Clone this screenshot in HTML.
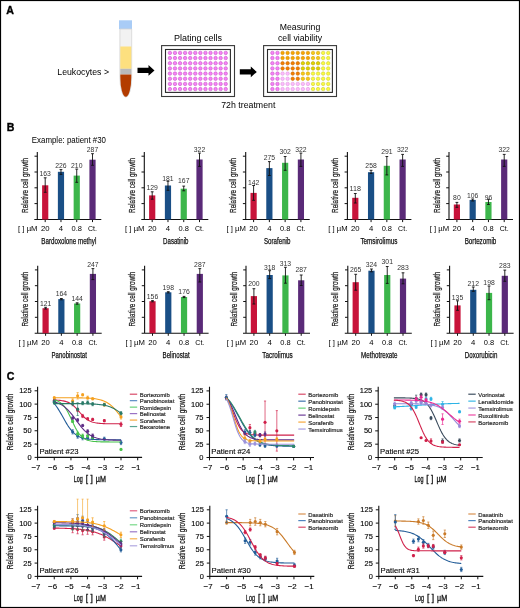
<!DOCTYPE html>
<html><head><meta charset="utf-8"><style>
html,body{margin:0;padding:0;background:#fff;}
body{width:520px;height:608px;overflow:hidden;}
svg{display:block;font-family:"Liberation Sans", sans-serif;will-change:transform;filter:blur(0.3px);}
</style></head><body>
<svg width="520" height="608" viewBox="0 0 520 608">
<rect x="0" y="0" width="520" height="608" fill="#fff"/>
<text x="6.20" y="13.70" font-size="10.6" fill="#000" font-weight="bold" stroke="#000" stroke-width="0.35">A</text>
<rect x="119" y="20.3" width="13" height="8.8" fill="#a9ccf6"/>
<path d="M119.9 29 H131.7 V77 A5.9 20.2 0 0 1 119.9 77 Z" fill="#f2f2f2" stroke="#d4d4d4" stroke-width="0.8"/>
<rect x="120.3" y="46.5" width="11" height="22.3" fill="#fde07f"/>
<rect x="120.3" y="68.8" width="11" height="5.6" fill="#b9b9bb"/>
<path d="M120.3 74.4 H131.3 V77 A5.5 19.8 0 0 1 120.3 77 Z" fill="#b33c00"/>
<text x="57.30" y="74.60" font-size="8.7" textLength="51.70" lengthAdjust="spacingAndGlyphs" >Leukocytes &gt;</text>
<path d="M137.5 67.7 H148.5 V65.0 L154.5 70.4 L148.5 75.80000000000001 V73.10000000000001 H137.5 Z" fill="#000"/>
<path d="M239.8 69.2 H250.8 V66.5 L256.8 71.9 L250.8 77.30000000000001 V74.60000000000001 H239.8 Z" fill="#000"/>
<text x="174.00" y="40.90" font-size="8.9" textLength="47.90" lengthAdjust="spacingAndGlyphs" >Plating cells</text>
<text x="279.80" y="29.50" font-size="8.7" textLength="40.40" lengthAdjust="spacingAndGlyphs" >Measuring</text>
<text x="278.00" y="40.50" font-size="8.7" textLength="44.00" lengthAdjust="spacingAndGlyphs" >cell viability</text>
<text x="221.20" y="108.00" font-size="8.8" textLength="54.20" lengthAdjust="spacingAndGlyphs" >72h treatment</text>
<rect x="161.6" y="45.6" width="72.90" height="50.90" fill="#fff" stroke="#3a3a3a" stroke-width="1.1"/>
<rect x="165.5" y="49.5" width="64.90" height="42.90" fill="#fff" stroke="#2a2a2a" stroke-width="1.1"/>
<circle cx="169.90" cy="52.90" r="1.75" fill="#f682f6" stroke="#c452c4" stroke-width="0.55"/>
<circle cx="174.97" cy="52.90" r="1.75" fill="#f682f6" stroke="#c452c4" stroke-width="0.55"/>
<circle cx="180.05" cy="52.90" r="1.75" fill="#f682f6" stroke="#c452c4" stroke-width="0.55"/>
<circle cx="185.12" cy="52.90" r="1.75" fill="#f682f6" stroke="#c452c4" stroke-width="0.55"/>
<circle cx="190.20" cy="52.90" r="1.75" fill="#f682f6" stroke="#c452c4" stroke-width="0.55"/>
<circle cx="195.28" cy="52.90" r="1.75" fill="#f682f6" stroke="#c452c4" stroke-width="0.55"/>
<circle cx="200.35" cy="52.90" r="1.75" fill="#f682f6" stroke="#c452c4" stroke-width="0.55"/>
<circle cx="205.43" cy="52.90" r="1.75" fill="#f682f6" stroke="#c452c4" stroke-width="0.55"/>
<circle cx="210.50" cy="52.90" r="1.75" fill="#f682f6" stroke="#c452c4" stroke-width="0.55"/>
<circle cx="215.58" cy="52.90" r="1.75" fill="#f682f6" stroke="#c452c4" stroke-width="0.55"/>
<circle cx="220.65" cy="52.90" r="1.75" fill="#f682f6" stroke="#c452c4" stroke-width="0.55"/>
<circle cx="225.73" cy="52.90" r="1.75" fill="#f682f6" stroke="#c452c4" stroke-width="0.55"/>
<circle cx="169.90" cy="58.07" r="1.75" fill="#f682f6" stroke="#c452c4" stroke-width="0.55"/>
<circle cx="174.97" cy="58.07" r="1.75" fill="#f682f6" stroke="#c452c4" stroke-width="0.55"/>
<circle cx="180.05" cy="58.07" r="1.75" fill="#f682f6" stroke="#c452c4" stroke-width="0.55"/>
<circle cx="185.12" cy="58.07" r="1.75" fill="#f682f6" stroke="#c452c4" stroke-width="0.55"/>
<circle cx="190.20" cy="58.07" r="1.75" fill="#f682f6" stroke="#c452c4" stroke-width="0.55"/>
<circle cx="195.28" cy="58.07" r="1.75" fill="#f682f6" stroke="#c452c4" stroke-width="0.55"/>
<circle cx="200.35" cy="58.07" r="1.75" fill="#f682f6" stroke="#c452c4" stroke-width="0.55"/>
<circle cx="205.43" cy="58.07" r="1.75" fill="#f682f6" stroke="#c452c4" stroke-width="0.55"/>
<circle cx="210.50" cy="58.07" r="1.75" fill="#f682f6" stroke="#c452c4" stroke-width="0.55"/>
<circle cx="215.58" cy="58.07" r="1.75" fill="#f682f6" stroke="#c452c4" stroke-width="0.55"/>
<circle cx="220.65" cy="58.07" r="1.75" fill="#f682f6" stroke="#c452c4" stroke-width="0.55"/>
<circle cx="225.73" cy="58.07" r="1.75" fill="#f682f6" stroke="#c452c4" stroke-width="0.55"/>
<circle cx="169.90" cy="63.24" r="1.75" fill="#f682f6" stroke="#c452c4" stroke-width="0.55"/>
<circle cx="174.97" cy="63.24" r="1.75" fill="#f682f6" stroke="#c452c4" stroke-width="0.55"/>
<circle cx="180.05" cy="63.24" r="1.75" fill="#f682f6" stroke="#c452c4" stroke-width="0.55"/>
<circle cx="185.12" cy="63.24" r="1.75" fill="#f682f6" stroke="#c452c4" stroke-width="0.55"/>
<circle cx="190.20" cy="63.24" r="1.75" fill="#f682f6" stroke="#c452c4" stroke-width="0.55"/>
<circle cx="195.28" cy="63.24" r="1.75" fill="#f682f6" stroke="#c452c4" stroke-width="0.55"/>
<circle cx="200.35" cy="63.24" r="1.75" fill="#f682f6" stroke="#c452c4" stroke-width="0.55"/>
<circle cx="205.43" cy="63.24" r="1.75" fill="#f682f6" stroke="#c452c4" stroke-width="0.55"/>
<circle cx="210.50" cy="63.24" r="1.75" fill="#f682f6" stroke="#c452c4" stroke-width="0.55"/>
<circle cx="215.58" cy="63.24" r="1.75" fill="#f682f6" stroke="#c452c4" stroke-width="0.55"/>
<circle cx="220.65" cy="63.24" r="1.75" fill="#f682f6" stroke="#c452c4" stroke-width="0.55"/>
<circle cx="225.73" cy="63.24" r="1.75" fill="#f682f6" stroke="#c452c4" stroke-width="0.55"/>
<circle cx="169.90" cy="68.41" r="1.75" fill="#f682f6" stroke="#c452c4" stroke-width="0.55"/>
<circle cx="174.97" cy="68.41" r="1.75" fill="#f682f6" stroke="#c452c4" stroke-width="0.55"/>
<circle cx="180.05" cy="68.41" r="1.75" fill="#f682f6" stroke="#c452c4" stroke-width="0.55"/>
<circle cx="185.12" cy="68.41" r="1.75" fill="#f682f6" stroke="#c452c4" stroke-width="0.55"/>
<circle cx="190.20" cy="68.41" r="1.75" fill="#f682f6" stroke="#c452c4" stroke-width="0.55"/>
<circle cx="195.28" cy="68.41" r="1.75" fill="#f682f6" stroke="#c452c4" stroke-width="0.55"/>
<circle cx="200.35" cy="68.41" r="1.75" fill="#f682f6" stroke="#c452c4" stroke-width="0.55"/>
<circle cx="205.43" cy="68.41" r="1.75" fill="#f682f6" stroke="#c452c4" stroke-width="0.55"/>
<circle cx="210.50" cy="68.41" r="1.75" fill="#f682f6" stroke="#c452c4" stroke-width="0.55"/>
<circle cx="215.58" cy="68.41" r="1.75" fill="#f682f6" stroke="#c452c4" stroke-width="0.55"/>
<circle cx="220.65" cy="68.41" r="1.75" fill="#f682f6" stroke="#c452c4" stroke-width="0.55"/>
<circle cx="225.73" cy="68.41" r="1.75" fill="#f682f6" stroke="#c452c4" stroke-width="0.55"/>
<circle cx="169.90" cy="73.58" r="1.75" fill="#f682f6" stroke="#c452c4" stroke-width="0.55"/>
<circle cx="174.97" cy="73.58" r="1.75" fill="#f682f6" stroke="#c452c4" stroke-width="0.55"/>
<circle cx="180.05" cy="73.58" r="1.75" fill="#f682f6" stroke="#c452c4" stroke-width="0.55"/>
<circle cx="185.12" cy="73.58" r="1.75" fill="#f682f6" stroke="#c452c4" stroke-width="0.55"/>
<circle cx="190.20" cy="73.58" r="1.75" fill="#f682f6" stroke="#c452c4" stroke-width="0.55"/>
<circle cx="195.28" cy="73.58" r="1.75" fill="#f682f6" stroke="#c452c4" stroke-width="0.55"/>
<circle cx="200.35" cy="73.58" r="1.75" fill="#f682f6" stroke="#c452c4" stroke-width="0.55"/>
<circle cx="205.43" cy="73.58" r="1.75" fill="#f682f6" stroke="#c452c4" stroke-width="0.55"/>
<circle cx="210.50" cy="73.58" r="1.75" fill="#f682f6" stroke="#c452c4" stroke-width="0.55"/>
<circle cx="215.58" cy="73.58" r="1.75" fill="#f682f6" stroke="#c452c4" stroke-width="0.55"/>
<circle cx="220.65" cy="73.58" r="1.75" fill="#f682f6" stroke="#c452c4" stroke-width="0.55"/>
<circle cx="225.73" cy="73.58" r="1.75" fill="#f682f6" stroke="#c452c4" stroke-width="0.55"/>
<circle cx="169.90" cy="78.75" r="1.75" fill="#f682f6" stroke="#c452c4" stroke-width="0.55"/>
<circle cx="174.97" cy="78.75" r="1.75" fill="#f682f6" stroke="#c452c4" stroke-width="0.55"/>
<circle cx="180.05" cy="78.75" r="1.75" fill="#f682f6" stroke="#c452c4" stroke-width="0.55"/>
<circle cx="185.12" cy="78.75" r="1.75" fill="#f682f6" stroke="#c452c4" stroke-width="0.55"/>
<circle cx="190.20" cy="78.75" r="1.75" fill="#f682f6" stroke="#c452c4" stroke-width="0.55"/>
<circle cx="195.28" cy="78.75" r="1.75" fill="#f682f6" stroke="#c452c4" stroke-width="0.55"/>
<circle cx="200.35" cy="78.75" r="1.75" fill="#f682f6" stroke="#c452c4" stroke-width="0.55"/>
<circle cx="205.43" cy="78.75" r="1.75" fill="#f682f6" stroke="#c452c4" stroke-width="0.55"/>
<circle cx="210.50" cy="78.75" r="1.75" fill="#f682f6" stroke="#c452c4" stroke-width="0.55"/>
<circle cx="215.58" cy="78.75" r="1.75" fill="#f682f6" stroke="#c452c4" stroke-width="0.55"/>
<circle cx="220.65" cy="78.75" r="1.75" fill="#f682f6" stroke="#c452c4" stroke-width="0.55"/>
<circle cx="225.73" cy="78.75" r="1.75" fill="#f682f6" stroke="#c452c4" stroke-width="0.55"/>
<circle cx="169.90" cy="83.92" r="1.75" fill="#f682f6" stroke="#c452c4" stroke-width="0.55"/>
<circle cx="174.97" cy="83.92" r="1.75" fill="#f682f6" stroke="#c452c4" stroke-width="0.55"/>
<circle cx="180.05" cy="83.92" r="1.75" fill="#f682f6" stroke="#c452c4" stroke-width="0.55"/>
<circle cx="185.12" cy="83.92" r="1.75" fill="#f682f6" stroke="#c452c4" stroke-width="0.55"/>
<circle cx="190.20" cy="83.92" r="1.75" fill="#f682f6" stroke="#c452c4" stroke-width="0.55"/>
<circle cx="195.28" cy="83.92" r="1.75" fill="#f682f6" stroke="#c452c4" stroke-width="0.55"/>
<circle cx="200.35" cy="83.92" r="1.75" fill="#f682f6" stroke="#c452c4" stroke-width="0.55"/>
<circle cx="205.43" cy="83.92" r="1.75" fill="#f682f6" stroke="#c452c4" stroke-width="0.55"/>
<circle cx="210.50" cy="83.92" r="1.75" fill="#f682f6" stroke="#c452c4" stroke-width="0.55"/>
<circle cx="215.58" cy="83.92" r="1.75" fill="#f682f6" stroke="#c452c4" stroke-width="0.55"/>
<circle cx="220.65" cy="83.92" r="1.75" fill="#f682f6" stroke="#c452c4" stroke-width="0.55"/>
<circle cx="225.73" cy="83.92" r="1.75" fill="#f682f6" stroke="#c452c4" stroke-width="0.55"/>
<circle cx="169.90" cy="89.09" r="1.75" fill="#f682f6" stroke="#c452c4" stroke-width="0.55"/>
<circle cx="174.97" cy="89.09" r="1.75" fill="#f682f6" stroke="#c452c4" stroke-width="0.55"/>
<circle cx="180.05" cy="89.09" r="1.75" fill="#f682f6" stroke="#c452c4" stroke-width="0.55"/>
<circle cx="185.12" cy="89.09" r="1.75" fill="#f682f6" stroke="#c452c4" stroke-width="0.55"/>
<circle cx="190.20" cy="89.09" r="1.75" fill="#f682f6" stroke="#c452c4" stroke-width="0.55"/>
<circle cx="195.28" cy="89.09" r="1.75" fill="#f682f6" stroke="#c452c4" stroke-width="0.55"/>
<circle cx="200.35" cy="89.09" r="1.75" fill="#f682f6" stroke="#c452c4" stroke-width="0.55"/>
<circle cx="205.43" cy="89.09" r="1.75" fill="#f682f6" stroke="#c452c4" stroke-width="0.55"/>
<circle cx="210.50" cy="89.09" r="1.75" fill="#f682f6" stroke="#c452c4" stroke-width="0.55"/>
<circle cx="215.58" cy="89.09" r="1.75" fill="#f682f6" stroke="#c452c4" stroke-width="0.55"/>
<circle cx="220.65" cy="89.09" r="1.75" fill="#f682f6" stroke="#c452c4" stroke-width="0.55"/>
<circle cx="225.73" cy="89.09" r="1.75" fill="#f682f6" stroke="#c452c4" stroke-width="0.55"/>
<rect x="263.6" y="45.6" width="72.90" height="50.90" fill="#fff" stroke="#3a3a3a" stroke-width="1.1"/>
<rect x="267.5" y="49.5" width="64.90" height="42.90" fill="#fff" stroke="#2a2a2a" stroke-width="1.1"/>
<circle cx="272.40" cy="52.90" r="1.75" fill="#f682f6" stroke="#c452c4" stroke-width="0.55"/>
<circle cx="277.47" cy="52.90" r="1.75" fill="#f682f6" stroke="#c452c4" stroke-width="0.55"/>
<circle cx="282.55" cy="52.90" r="1.75" fill="#f8a500" stroke="#cf8a00" stroke-width="0.55"/>
<circle cx="287.62" cy="52.90" r="1.75" fill="#f8a500" stroke="#cf8a00" stroke-width="0.55"/>
<circle cx="292.70" cy="52.90" r="1.75" fill="#f8a500" stroke="#cf8a00" stroke-width="0.55"/>
<circle cx="297.77" cy="52.90" r="1.75" fill="#f8a500" stroke="#cf8a00" stroke-width="0.55"/>
<circle cx="302.85" cy="52.90" r="1.75" fill="#f8a500" stroke="#cf8a00" stroke-width="0.55"/>
<circle cx="307.92" cy="52.90" r="1.75" fill="#f8a500" stroke="#cf8a00" stroke-width="0.55"/>
<circle cx="313.00" cy="52.90" r="1.75" fill="#f6c818" stroke="#cfa400" stroke-width="0.55"/>
<circle cx="318.07" cy="52.90" r="1.75" fill="#f6c818" stroke="#cfa400" stroke-width="0.55"/>
<circle cx="323.15" cy="52.90" r="1.75" fill="#fafa40" stroke="#cccc30" stroke-width="0.55"/>
<circle cx="328.22" cy="52.90" r="1.75" fill="#fafa40" stroke="#cccc30" stroke-width="0.55"/>
<circle cx="272.40" cy="58.07" r="1.75" fill="#f682f6" stroke="#c452c4" stroke-width="0.55"/>
<circle cx="277.47" cy="58.07" r="1.75" fill="#f682f6" stroke="#c452c4" stroke-width="0.55"/>
<circle cx="282.55" cy="58.07" r="1.75" fill="#f8a500" stroke="#cf8a00" stroke-width="0.55"/>
<circle cx="287.62" cy="58.07" r="1.75" fill="#f8a500" stroke="#cf8a00" stroke-width="0.55"/>
<circle cx="292.70" cy="58.07" r="1.75" fill="#f8a500" stroke="#cf8a00" stroke-width="0.55"/>
<circle cx="297.77" cy="58.07" r="1.75" fill="#f8a500" stroke="#cf8a00" stroke-width="0.55"/>
<circle cx="302.85" cy="58.07" r="1.75" fill="#f8a500" stroke="#cf8a00" stroke-width="0.55"/>
<circle cx="307.92" cy="58.07" r="1.75" fill="#f8a500" stroke="#cf8a00" stroke-width="0.55"/>
<circle cx="313.00" cy="58.07" r="1.75" fill="#f6c818" stroke="#cfa400" stroke-width="0.55"/>
<circle cx="318.07" cy="58.07" r="1.75" fill="#f6c818" stroke="#cfa400" stroke-width="0.55"/>
<circle cx="323.15" cy="58.07" r="1.75" fill="#fafa40" stroke="#cccc30" stroke-width="0.55"/>
<circle cx="328.22" cy="58.07" r="1.75" fill="#fafa40" stroke="#cccc30" stroke-width="0.55"/>
<circle cx="272.40" cy="63.24" r="1.75" fill="#f682f6" stroke="#c452c4" stroke-width="0.55"/>
<circle cx="277.47" cy="63.24" r="1.75" fill="#f682f6" stroke="#c452c4" stroke-width="0.55"/>
<circle cx="282.55" cy="63.24" r="1.75" fill="#f27e00" stroke="#c86400" stroke-width="0.55"/>
<circle cx="287.62" cy="63.24" r="1.75" fill="#f27e00" stroke="#c86400" stroke-width="0.55"/>
<circle cx="292.70" cy="63.24" r="1.75" fill="#f27e00" stroke="#c86400" stroke-width="0.55"/>
<circle cx="297.77" cy="63.24" r="1.75" fill="#f27e00" stroke="#c86400" stroke-width="0.55"/>
<circle cx="302.85" cy="63.24" r="1.75" fill="#e2d200" stroke="#b4a400" stroke-width="0.55"/>
<circle cx="307.92" cy="63.24" r="1.75" fill="#e2d200" stroke="#b4a400" stroke-width="0.55"/>
<circle cx="313.00" cy="63.24" r="1.75" fill="#e2d200" stroke="#b4a400" stroke-width="0.55"/>
<circle cx="318.07" cy="63.24" r="1.75" fill="#e2d200" stroke="#b4a400" stroke-width="0.55"/>
<circle cx="323.15" cy="63.24" r="1.75" fill="#fafa40" stroke="#cccc30" stroke-width="0.55"/>
<circle cx="328.22" cy="63.24" r="1.75" fill="#fafa40" stroke="#cccc30" stroke-width="0.55"/>
<circle cx="272.40" cy="68.41" r="1.75" fill="#f682f6" stroke="#c452c4" stroke-width="0.55"/>
<circle cx="277.47" cy="68.41" r="1.75" fill="#f682f6" stroke="#c452c4" stroke-width="0.55"/>
<circle cx="282.55" cy="68.41" r="1.75" fill="#f27e00" stroke="#c86400" stroke-width="0.55"/>
<circle cx="287.62" cy="68.41" r="1.75" fill="#f27e00" stroke="#c86400" stroke-width="0.55"/>
<circle cx="292.70" cy="68.41" r="1.75" fill="#f27e00" stroke="#c86400" stroke-width="0.55"/>
<circle cx="297.77" cy="68.41" r="1.75" fill="#f27e00" stroke="#c86400" stroke-width="0.55"/>
<circle cx="302.85" cy="68.41" r="1.75" fill="#e2d200" stroke="#b4a400" stroke-width="0.55"/>
<circle cx="307.92" cy="68.41" r="1.75" fill="#e2d200" stroke="#b4a400" stroke-width="0.55"/>
<circle cx="313.00" cy="68.41" r="1.75" fill="#e2d200" stroke="#b4a400" stroke-width="0.55"/>
<circle cx="318.07" cy="68.41" r="1.75" fill="#e2d200" stroke="#b4a400" stroke-width="0.55"/>
<circle cx="323.15" cy="68.41" r="1.75" fill="#fafa40" stroke="#cccc30" stroke-width="0.55"/>
<circle cx="328.22" cy="68.41" r="1.75" fill="#fafa40" stroke="#cccc30" stroke-width="0.55"/>
<circle cx="272.40" cy="73.58" r="1.75" fill="#f682f6" stroke="#c452c4" stroke-width="0.55"/>
<circle cx="277.47" cy="73.58" r="1.75" fill="#f682f6" stroke="#c452c4" stroke-width="0.55"/>
<circle cx="282.55" cy="73.58" r="1.75" fill="#fcbcfc" stroke="#dc94dc" stroke-width="0.55"/>
<circle cx="287.62" cy="73.58" r="1.75" fill="#fcbcfc" stroke="#dc94dc" stroke-width="0.55"/>
<circle cx="292.70" cy="73.58" r="1.75" fill="#f27e00" stroke="#c86400" stroke-width="0.55"/>
<circle cx="297.77" cy="73.58" r="1.75" fill="#f27e00" stroke="#c86400" stroke-width="0.55"/>
<circle cx="302.85" cy="73.58" r="1.75" fill="#f6c818" stroke="#cfa400" stroke-width="0.55"/>
<circle cx="307.92" cy="73.58" r="1.75" fill="#f6c818" stroke="#cfa400" stroke-width="0.55"/>
<circle cx="313.00" cy="73.58" r="1.75" fill="#fafa40" stroke="#cccc30" stroke-width="0.55"/>
<circle cx="318.07" cy="73.58" r="1.75" fill="#fafa40" stroke="#cccc30" stroke-width="0.55"/>
<circle cx="323.15" cy="73.58" r="1.75" fill="#fafa40" stroke="#cccc30" stroke-width="0.55"/>
<circle cx="328.22" cy="73.58" r="1.75" fill="#fafa40" stroke="#cccc30" stroke-width="0.55"/>
<circle cx="272.40" cy="78.75" r="1.75" fill="#f682f6" stroke="#c452c4" stroke-width="0.55"/>
<circle cx="277.47" cy="78.75" r="1.75" fill="#f682f6" stroke="#c452c4" stroke-width="0.55"/>
<circle cx="282.55" cy="78.75" r="1.75" fill="#fcbcfc" stroke="#dc94dc" stroke-width="0.55"/>
<circle cx="287.62" cy="78.75" r="1.75" fill="#fcbcfc" stroke="#dc94dc" stroke-width="0.55"/>
<circle cx="292.70" cy="78.75" r="1.75" fill="#f27e00" stroke="#c86400" stroke-width="0.55"/>
<circle cx="297.77" cy="78.75" r="1.75" fill="#f27e00" stroke="#c86400" stroke-width="0.55"/>
<circle cx="302.85" cy="78.75" r="1.75" fill="#f6c818" stroke="#cfa400" stroke-width="0.55"/>
<circle cx="307.92" cy="78.75" r="1.75" fill="#f6c818" stroke="#cfa400" stroke-width="0.55"/>
<circle cx="313.00" cy="78.75" r="1.75" fill="#fafa40" stroke="#cccc30" stroke-width="0.55"/>
<circle cx="318.07" cy="78.75" r="1.75" fill="#fafa40" stroke="#cccc30" stroke-width="0.55"/>
<circle cx="323.15" cy="78.75" r="1.75" fill="#fafa40" stroke="#cccc30" stroke-width="0.55"/>
<circle cx="328.22" cy="78.75" r="1.75" fill="#fafa40" stroke="#cccc30" stroke-width="0.55"/>
<circle cx="272.40" cy="83.92" r="1.75" fill="#f682f6" stroke="#c452c4" stroke-width="0.55"/>
<circle cx="277.47" cy="83.92" r="1.75" fill="#f682f6" stroke="#c452c4" stroke-width="0.55"/>
<circle cx="282.55" cy="83.92" r="1.75" fill="#fcbcfc" stroke="#dc94dc" stroke-width="0.55"/>
<circle cx="287.62" cy="83.92" r="1.75" fill="#fcbcfc" stroke="#dc94dc" stroke-width="0.55"/>
<circle cx="292.70" cy="83.92" r="1.75" fill="#fcbcfc" stroke="#dc94dc" stroke-width="0.55"/>
<circle cx="297.77" cy="83.92" r="1.75" fill="#fcbcfc" stroke="#dc94dc" stroke-width="0.55"/>
<circle cx="302.85" cy="83.92" r="1.75" fill="#fcbcfc" stroke="#dc94dc" stroke-width="0.55"/>
<circle cx="307.92" cy="83.92" r="1.75" fill="#fcbcfc" stroke="#dc94dc" stroke-width="0.55"/>
<circle cx="313.00" cy="83.92" r="1.75" fill="#fafa40" stroke="#cccc30" stroke-width="0.55"/>
<circle cx="318.07" cy="83.92" r="1.75" fill="#fafa40" stroke="#cccc30" stroke-width="0.55"/>
<circle cx="323.15" cy="83.92" r="1.75" fill="#fafa40" stroke="#cccc30" stroke-width="0.55"/>
<circle cx="328.22" cy="83.92" r="1.75" fill="#fafa40" stroke="#cccc30" stroke-width="0.55"/>
<circle cx="272.40" cy="89.09" r="1.75" fill="#f682f6" stroke="#c452c4" stroke-width="0.55"/>
<circle cx="277.47" cy="89.09" r="1.75" fill="#f682f6" stroke="#c452c4" stroke-width="0.55"/>
<circle cx="282.55" cy="89.09" r="1.75" fill="#fcbcfc" stroke="#dc94dc" stroke-width="0.55"/>
<circle cx="287.62" cy="89.09" r="1.75" fill="#fcbcfc" stroke="#dc94dc" stroke-width="0.55"/>
<circle cx="292.70" cy="89.09" r="1.75" fill="#fcbcfc" stroke="#dc94dc" stroke-width="0.55"/>
<circle cx="297.77" cy="89.09" r="1.75" fill="#fcbcfc" stroke="#dc94dc" stroke-width="0.55"/>
<circle cx="302.85" cy="89.09" r="1.75" fill="#fcbcfc" stroke="#dc94dc" stroke-width="0.55"/>
<circle cx="307.92" cy="89.09" r="1.75" fill="#fcbcfc" stroke="#dc94dc" stroke-width="0.55"/>
<circle cx="313.00" cy="89.09" r="1.75" fill="#fafa40" stroke="#cccc30" stroke-width="0.55"/>
<circle cx="318.07" cy="89.09" r="1.75" fill="#fafa40" stroke="#cccc30" stroke-width="0.55"/>
<circle cx="323.15" cy="89.09" r="1.75" fill="#fafa40" stroke="#cccc30" stroke-width="0.55"/>
<circle cx="328.22" cy="89.09" r="1.75" fill="#fafa40" stroke="#cccc30" stroke-width="0.55"/>
<text x="6.80" y="130.60" font-size="10.6" fill="#000" font-weight="bold" stroke="#000" stroke-width="0.35">B</text>
<text x="31.80" y="143.00" font-size="8.6" textLength="74.20" lengthAdjust="spacingAndGlyphs" >Example: patient #30</text>
<path d="M37.30 152.00 V219.50 M34.30 219.50 H101.30" fill="none" stroke="#111" stroke-width="1.1"/>
<path d="M34.50 156.20 H37.30" stroke="#111" stroke-width="1"/>
<path d="M34.50 172.00 H37.30" stroke="#111" stroke-width="1"/>
<path d="M34.50 187.80 H37.30" stroke="#111" stroke-width="1"/>
<path d="M34.50 203.60 H37.30" stroke="#111" stroke-width="1"/>
<path d="M45.20 219.50 V222.10" stroke="#111" stroke-width="1"/>
<rect x="42.10" y="185.30" width="6.2" height="34.20" fill="#c8133a"/>
<path d="M45.20 177.80 V192.30 M43.80 177.80 H46.60 M43.80 192.30 H46.60" stroke="#111" stroke-width="0.9"/>
<text x="45.20" y="175.60" font-size="7.0" text-anchor="middle" fill="#333" textLength="11.40" lengthAdjust="spacingAndGlyphs" >163</text>
<path d="M60.97 219.50 V222.10" stroke="#111" stroke-width="1"/>
<rect x="57.87" y="171.80" width="6.2" height="47.70" fill="#1a4f86"/>
<path d="M60.97 169.60 V174.40 M59.57 169.60 H62.37 M59.57 174.40 H62.37" stroke="#111" stroke-width="0.9"/>
<text x="60.97" y="167.90" font-size="7.0" text-anchor="middle" fill="#333" textLength="11.40" lengthAdjust="spacingAndGlyphs" >226</text>
<path d="M76.74 219.50 V222.10" stroke="#111" stroke-width="1"/>
<rect x="73.64" y="175.60" width="6.2" height="43.90" fill="#3cb64b"/>
<path d="M76.74 169.10 V182.30 M75.34 169.10 H78.14 M75.34 182.30 H78.14" stroke="#111" stroke-width="0.9"/>
<text x="76.74" y="167.90" font-size="7.0" text-anchor="middle" fill="#333" textLength="11.40" lengthAdjust="spacingAndGlyphs" >210</text>
<path d="M92.51 219.50 V222.10" stroke="#111" stroke-width="1"/>
<rect x="89.41" y="159.70" width="6.2" height="59.80" fill="#5a2a78"/>
<path d="M92.51 153.70 V165.30 M91.11 153.70 H93.91 M91.11 165.30 H93.91" stroke="#111" stroke-width="0.9"/>
<text x="92.51" y="152.10" font-size="7.0" text-anchor="middle" fill="#333" textLength="11.40" lengthAdjust="spacingAndGlyphs" >287</text>
<text x="18.10" y="231.30" font-size="7.6" textLength="19.40" lengthAdjust="spacingAndGlyphs" >[ ] µM</text>
<text x="45.20" y="231.30" font-size="7.6" text-anchor="middle" textLength="8.60" lengthAdjust="spacingAndGlyphs" >20</text>
<text x="60.97" y="231.30" font-size="7.6" text-anchor="middle" textLength="4.30" lengthAdjust="spacingAndGlyphs" >4</text>
<text x="76.74" y="231.30" font-size="7.6" text-anchor="middle" textLength="10.40" lengthAdjust="spacingAndGlyphs" >0.8</text>
<text x="92.51" y="231.30" font-size="7.6" text-anchor="middle" textLength="9.00" lengthAdjust="spacingAndGlyphs" >Ct.</text>
<text x="68.80" y="243.80" font-size="8.5" text-anchor="middle" textLength="55.00" lengthAdjust="spacingAndGlyphs" stroke="#222" stroke-width="0.25">Bardoxolone methyl</text>
<text transform="translate(27.90,185.40) rotate(-90)" x="0" y="0" font-size="9.5" text-anchor="middle" textLength="55" lengthAdjust="spacingAndGlyphs" fill="#222" stroke="#222" stroke-width="0.25">Relative cell growth</text>
<path d="M144.30 152.00 V219.50 M141.30 219.50 H208.30" fill="none" stroke="#111" stroke-width="1.1"/>
<path d="M141.50 156.20 H144.30" stroke="#111" stroke-width="1"/>
<path d="M141.50 172.00 H144.30" stroke="#111" stroke-width="1"/>
<path d="M141.50 187.80 H144.30" stroke="#111" stroke-width="1"/>
<path d="M141.50 203.60 H144.30" stroke="#111" stroke-width="1"/>
<path d="M152.20 219.50 V222.10" stroke="#111" stroke-width="1"/>
<rect x="149.10" y="195.40" width="6.2" height="24.10" fill="#c8133a"/>
<path d="M152.20 191.80 V199.20 M150.80 191.80 H153.60 M150.80 199.20 H153.60" stroke="#111" stroke-width="0.9"/>
<text x="152.20" y="189.70" font-size="7.0" text-anchor="middle" fill="#333" textLength="11.40" lengthAdjust="spacingAndGlyphs" >129</text>
<path d="M167.97 219.50 V222.10" stroke="#111" stroke-width="1"/>
<rect x="164.87" y="185.50" width="6.2" height="34.00" fill="#1a4f86"/>
<path d="M167.97 181.30 V190.30 M166.57 181.30 H169.37 M166.57 190.30 H169.37" stroke="#111" stroke-width="0.9"/>
<text x="167.97" y="180.80" font-size="7.0" text-anchor="middle" fill="#333" textLength="11.40" lengthAdjust="spacingAndGlyphs" >181</text>
<path d="M183.74 219.50 V222.10" stroke="#111" stroke-width="1"/>
<rect x="180.64" y="188.70" width="6.2" height="30.80" fill="#3cb64b"/>
<path d="M183.74 186.10 V190.80 M182.34 186.10 H185.14 M182.34 190.80 H185.14" stroke="#111" stroke-width="0.9"/>
<text x="183.74" y="183.40" font-size="7.0" text-anchor="middle" fill="#333" textLength="11.40" lengthAdjust="spacingAndGlyphs" >167</text>
<path d="M199.51 219.50 V222.10" stroke="#111" stroke-width="1"/>
<rect x="196.41" y="159.50" width="6.2" height="60.00" fill="#5a2a78"/>
<path d="M199.51 153.10 V166.40 M198.11 153.10 H200.91 M198.11 166.40 H200.91" stroke="#111" stroke-width="0.9"/>
<text x="199.51" y="151.60" font-size="7.0" text-anchor="middle" fill="#333" textLength="11.40" lengthAdjust="spacingAndGlyphs" >322</text>
<text x="125.10" y="231.30" font-size="7.6" textLength="19.40" lengthAdjust="spacingAndGlyphs" >[ ] µM</text>
<text x="152.20" y="231.30" font-size="7.6" text-anchor="middle" textLength="8.60" lengthAdjust="spacingAndGlyphs" >20</text>
<text x="167.97" y="231.30" font-size="7.6" text-anchor="middle" textLength="4.30" lengthAdjust="spacingAndGlyphs" >4</text>
<text x="183.74" y="231.30" font-size="7.6" text-anchor="middle" textLength="10.40" lengthAdjust="spacingAndGlyphs" >0.8</text>
<text x="199.51" y="231.30" font-size="7.6" text-anchor="middle" textLength="9.00" lengthAdjust="spacingAndGlyphs" >Ct.</text>
<text x="175.80" y="243.80" font-size="8.5" text-anchor="middle" textLength="25.40" lengthAdjust="spacingAndGlyphs" stroke="#222" stroke-width="0.25">Dasatinib</text>
<text transform="translate(134.90,185.40) rotate(-90)" x="0" y="0" font-size="9.5" text-anchor="middle" textLength="55" lengthAdjust="spacingAndGlyphs" fill="#222" stroke="#222" stroke-width="0.25">Relative cell growth</text>
<path d="M245.70 152.00 V219.50 M242.70 219.50 H309.70" fill="none" stroke="#111" stroke-width="1.1"/>
<path d="M242.90 156.20 H245.70" stroke="#111" stroke-width="1"/>
<path d="M242.90 172.00 H245.70" stroke="#111" stroke-width="1"/>
<path d="M242.90 187.80 H245.70" stroke="#111" stroke-width="1"/>
<path d="M242.90 203.60 H245.70" stroke="#111" stroke-width="1"/>
<path d="M253.60 219.50 V222.10" stroke="#111" stroke-width="1"/>
<rect x="250.50" y="192.90" width="6.2" height="26.60" fill="#c8133a"/>
<path d="M253.60 185.50 V200.30 M252.20 185.50 H255.00 M252.20 200.30 H255.00" stroke="#111" stroke-width="0.9"/>
<text x="253.60" y="184.80" font-size="7.0" text-anchor="middle" fill="#333" textLength="11.40" lengthAdjust="spacingAndGlyphs" >142</text>
<path d="M269.37 219.50 V222.10" stroke="#111" stroke-width="1"/>
<rect x="266.27" y="168.10" width="6.2" height="51.40" fill="#1a4f86"/>
<path d="M269.37 161.60 V175.50 M267.97 161.60 H270.77 M267.97 175.50 H270.77" stroke="#111" stroke-width="0.9"/>
<text x="269.37" y="160.00" font-size="7.0" text-anchor="middle" fill="#333" textLength="11.40" lengthAdjust="spacingAndGlyphs" >275</text>
<path d="M285.14 219.50 V222.10" stroke="#111" stroke-width="1"/>
<rect x="282.04" y="162.80" width="6.2" height="56.70" fill="#3cb64b"/>
<path d="M285.14 156.50 V170.30 M283.74 156.50 H286.54 M283.74 170.30 H286.54" stroke="#111" stroke-width="0.9"/>
<text x="285.14" y="154.40" font-size="7.0" text-anchor="middle" fill="#333" textLength="11.40" lengthAdjust="spacingAndGlyphs" >302</text>
<path d="M300.91 219.50 V222.10" stroke="#111" stroke-width="1"/>
<rect x="297.81" y="159.50" width="6.2" height="60.00" fill="#5a2a78"/>
<path d="M300.91 153.10 V166.40 M299.51 153.10 H302.31 M299.51 166.40 H302.31" stroke="#111" stroke-width="0.9"/>
<text x="300.91" y="151.60" font-size="7.0" text-anchor="middle" fill="#333" textLength="11.40" lengthAdjust="spacingAndGlyphs" >322</text>
<text x="226.50" y="231.30" font-size="7.6" textLength="19.40" lengthAdjust="spacingAndGlyphs" >[ ] µM</text>
<text x="253.60" y="231.30" font-size="7.6" text-anchor="middle" textLength="8.60" lengthAdjust="spacingAndGlyphs" >20</text>
<text x="269.37" y="231.30" font-size="7.6" text-anchor="middle" textLength="4.30" lengthAdjust="spacingAndGlyphs" >4</text>
<text x="285.14" y="231.30" font-size="7.6" text-anchor="middle" textLength="10.40" lengthAdjust="spacingAndGlyphs" >0.8</text>
<text x="300.91" y="231.30" font-size="7.6" text-anchor="middle" textLength="9.00" lengthAdjust="spacingAndGlyphs" >Ct.</text>
<text x="277.20" y="243.80" font-size="8.5" text-anchor="middle" textLength="26.40" lengthAdjust="spacingAndGlyphs" stroke="#222" stroke-width="0.25">Sorafenib</text>
<text transform="translate(236.30,185.40) rotate(-90)" x="0" y="0" font-size="9.5" text-anchor="middle" textLength="55" lengthAdjust="spacingAndGlyphs" fill="#222" stroke="#222" stroke-width="0.25">Relative cell growth</text>
<path d="M347.40 152.00 V219.50 M344.40 219.50 H411.40" fill="none" stroke="#111" stroke-width="1.1"/>
<path d="M344.60 156.20 H347.40" stroke="#111" stroke-width="1"/>
<path d="M344.60 172.00 H347.40" stroke="#111" stroke-width="1"/>
<path d="M344.60 187.80 H347.40" stroke="#111" stroke-width="1"/>
<path d="M344.60 203.60 H347.40" stroke="#111" stroke-width="1"/>
<path d="M355.30 219.50 V222.10" stroke="#111" stroke-width="1"/>
<rect x="352.20" y="197.80" width="6.2" height="21.70" fill="#c8133a"/>
<path d="M355.30 193.50 V203.00 M353.90 193.50 H356.70 M353.90 203.00 H356.70" stroke="#111" stroke-width="0.9"/>
<text x="355.30" y="191.20" font-size="7.0" text-anchor="middle" fill="#333" textLength="11.40" lengthAdjust="spacingAndGlyphs" >118</text>
<path d="M371.07 219.50 V222.10" stroke="#111" stroke-width="1"/>
<rect x="367.97" y="172.20" width="6.2" height="47.30" fill="#1a4f86"/>
<path d="M371.07 170.30 V173.40 M369.67 170.30 H372.47 M369.67 173.40 H372.47" stroke="#111" stroke-width="0.9"/>
<text x="371.07" y="168.10" font-size="7.0" text-anchor="middle" fill="#333" textLength="11.40" lengthAdjust="spacingAndGlyphs" >258</text>
<path d="M386.84 219.50 V222.10" stroke="#111" stroke-width="1"/>
<rect x="383.74" y="165.80" width="6.2" height="53.70" fill="#3cb64b"/>
<path d="M386.84 156.50 V174.90 M385.44 156.50 H388.24 M385.44 174.90 H388.24" stroke="#111" stroke-width="0.9"/>
<text x="386.84" y="154.40" font-size="7.0" text-anchor="middle" fill="#333" textLength="11.40" lengthAdjust="spacingAndGlyphs" >291</text>
<path d="M402.61 219.50 V222.10" stroke="#111" stroke-width="1"/>
<rect x="399.51" y="159.50" width="6.2" height="60.00" fill="#5a2a78"/>
<path d="M402.61 154.40 V166.40 M401.21 154.40 H404.01 M401.21 166.40 H404.01" stroke="#111" stroke-width="0.9"/>
<text x="402.61" y="151.60" font-size="7.0" text-anchor="middle" fill="#333" textLength="11.40" lengthAdjust="spacingAndGlyphs" >322</text>
<text x="328.20" y="231.30" font-size="7.6" textLength="19.40" lengthAdjust="spacingAndGlyphs" >[ ] µM</text>
<text x="355.30" y="231.30" font-size="7.6" text-anchor="middle" textLength="8.60" lengthAdjust="spacingAndGlyphs" >20</text>
<text x="371.07" y="231.30" font-size="7.6" text-anchor="middle" textLength="4.30" lengthAdjust="spacingAndGlyphs" >4</text>
<text x="386.84" y="231.30" font-size="7.6" text-anchor="middle" textLength="10.40" lengthAdjust="spacingAndGlyphs" >0.8</text>
<text x="402.61" y="231.30" font-size="7.6" text-anchor="middle" textLength="9.00" lengthAdjust="spacingAndGlyphs" >Ct.</text>
<text x="378.90" y="243.80" font-size="8.5" text-anchor="middle" textLength="37.00" lengthAdjust="spacingAndGlyphs" stroke="#222" stroke-width="0.25">Temsirolimus</text>
<text transform="translate(338.00,185.40) rotate(-90)" x="0" y="0" font-size="9.5" text-anchor="middle" textLength="55" lengthAdjust="spacingAndGlyphs" fill="#222" stroke="#222" stroke-width="0.25">Relative cell growth</text>
<path d="M449.00 152.00 V219.50 M446.00 219.50 H513.00" fill="none" stroke="#111" stroke-width="1.1"/>
<path d="M446.20 156.20 H449.00" stroke="#111" stroke-width="1"/>
<path d="M446.20 172.00 H449.00" stroke="#111" stroke-width="1"/>
<path d="M446.20 187.80 H449.00" stroke="#111" stroke-width="1"/>
<path d="M446.20 203.60 H449.00" stroke="#111" stroke-width="1"/>
<path d="M456.90 219.50 V222.10" stroke="#111" stroke-width="1"/>
<rect x="453.80" y="204.50" width="6.2" height="15.00" fill="#c8133a"/>
<path d="M456.90 202.40 V207.30 M455.50 202.40 H458.30 M455.50 207.30 H458.30" stroke="#111" stroke-width="0.9"/>
<text x="456.90" y="199.70" font-size="7.0" text-anchor="middle" fill="#333" textLength="7.60" lengthAdjust="spacingAndGlyphs" >80</text>
<path d="M472.67 219.50 V222.10" stroke="#111" stroke-width="1"/>
<rect x="469.57" y="199.90" width="6.2" height="19.60" fill="#1a4f86"/>
<path d="M472.67 199.00 V201.00 M471.27 199.00 H474.07 M471.27 201.00 H474.07" stroke="#111" stroke-width="0.9"/>
<text x="472.67" y="197.80" font-size="7.0" text-anchor="middle" fill="#333" textLength="11.40" lengthAdjust="spacingAndGlyphs" >106</text>
<path d="M488.44 219.50 V222.10" stroke="#111" stroke-width="1"/>
<rect x="485.34" y="202.00" width="6.2" height="17.50" fill="#3cb64b"/>
<path d="M488.44 199.20 V204.50 M487.04 199.20 H489.84 M487.04 204.50 H489.84" stroke="#111" stroke-width="0.9"/>
<text x="488.44" y="199.70" font-size="7.0" text-anchor="middle" fill="#333" textLength="7.60" lengthAdjust="spacingAndGlyphs" >96</text>
<path d="M504.21 219.50 V222.10" stroke="#111" stroke-width="1"/>
<rect x="501.11" y="159.50" width="6.2" height="60.00" fill="#5a2a78"/>
<path d="M504.21 154.40 V166.40 M502.81 154.40 H505.61 M502.81 166.40 H505.61" stroke="#111" stroke-width="0.9"/>
<text x="504.21" y="151.60" font-size="7.0" text-anchor="middle" fill="#333" textLength="11.40" lengthAdjust="spacingAndGlyphs" >322</text>
<text x="429.80" y="231.30" font-size="7.6" textLength="19.40" lengthAdjust="spacingAndGlyphs" >[ ] µM</text>
<text x="456.90" y="231.30" font-size="7.6" text-anchor="middle" textLength="8.60" lengthAdjust="spacingAndGlyphs" >20</text>
<text x="472.67" y="231.30" font-size="7.6" text-anchor="middle" textLength="4.30" lengthAdjust="spacingAndGlyphs" >4</text>
<text x="488.44" y="231.30" font-size="7.6" text-anchor="middle" textLength="10.40" lengthAdjust="spacingAndGlyphs" >0.8</text>
<text x="504.21" y="231.30" font-size="7.6" text-anchor="middle" textLength="9.00" lengthAdjust="spacingAndGlyphs" >Ct.</text>
<text x="480.50" y="243.80" font-size="8.5" text-anchor="middle" textLength="31.70" lengthAdjust="spacingAndGlyphs" stroke="#222" stroke-width="0.25">Bortezomib</text>
<text transform="translate(439.60,185.40) rotate(-90)" x="0" y="0" font-size="9.5" text-anchor="middle" textLength="55" lengthAdjust="spacingAndGlyphs" fill="#222" stroke="#222" stroke-width="0.25">Relative cell growth</text>
<path d="M37.70 265.70 V333.20 M34.70 333.20 H101.70" fill="none" stroke="#111" stroke-width="1.1"/>
<path d="M34.90 269.90 H37.70" stroke="#111" stroke-width="1"/>
<path d="M34.90 285.70 H37.70" stroke="#111" stroke-width="1"/>
<path d="M34.90 301.50 H37.70" stroke="#111" stroke-width="1"/>
<path d="M34.90 317.30 H37.70" stroke="#111" stroke-width="1"/>
<path d="M45.60 333.20 V335.80" stroke="#111" stroke-width="1"/>
<rect x="42.50" y="308.20" width="6.2" height="25.00" fill="#c8133a"/>
<path d="M45.60 307.30 V309.00 M44.20 307.30 H47.00 M44.20 309.00 H47.00" stroke="#111" stroke-width="0.9"/>
<text x="45.60" y="306.00" font-size="7.0" text-anchor="middle" fill="#333" textLength="11.40" lengthAdjust="spacingAndGlyphs" >121</text>
<path d="M61.37 333.20 V335.80" stroke="#111" stroke-width="1"/>
<rect x="58.27" y="299.10" width="6.2" height="34.10" fill="#1a4f86"/>
<path d="M61.37 298.50 V299.80 M59.97 298.50 H62.77 M59.97 299.80 H62.77" stroke="#111" stroke-width="0.9"/>
<text x="61.37" y="296.10" font-size="7.0" text-anchor="middle" fill="#333" textLength="11.40" lengthAdjust="spacingAndGlyphs" >164</text>
<path d="M77.14 333.20 V335.80" stroke="#111" stroke-width="1"/>
<rect x="74.04" y="303.50" width="6.2" height="29.70" fill="#3cb64b"/>
<path d="M77.14 302.80 V304.20 M75.74 302.80 H78.54 M75.74 304.20 H78.54" stroke="#111" stroke-width="0.9"/>
<text x="77.14" y="300.80" font-size="7.0" text-anchor="middle" fill="#333" textLength="11.40" lengthAdjust="spacingAndGlyphs" >144</text>
<path d="M92.91 333.20 V335.80" stroke="#111" stroke-width="1"/>
<rect x="89.81" y="273.90" width="6.2" height="59.30" fill="#5a2a78"/>
<path d="M92.91 268.60 V279.60 M91.51 268.60 H94.31 M91.51 279.60 H94.31" stroke="#111" stroke-width="0.9"/>
<text x="92.91" y="266.50" font-size="7.0" text-anchor="middle" fill="#333" textLength="11.40" lengthAdjust="spacingAndGlyphs" >247</text>
<text x="18.50" y="345.00" font-size="7.6" textLength="19.40" lengthAdjust="spacingAndGlyphs" >[ ] µM</text>
<text x="45.60" y="345.00" font-size="7.6" text-anchor="middle" textLength="8.60" lengthAdjust="spacingAndGlyphs" >20</text>
<text x="61.37" y="345.00" font-size="7.6" text-anchor="middle" textLength="4.30" lengthAdjust="spacingAndGlyphs" >4</text>
<text x="77.14" y="345.00" font-size="7.6" text-anchor="middle" textLength="10.40" lengthAdjust="spacingAndGlyphs" >0.8</text>
<text x="92.91" y="345.00" font-size="7.6" text-anchor="middle" textLength="9.00" lengthAdjust="spacingAndGlyphs" >Ct.</text>
<text x="69.20" y="357.50" font-size="8.5" text-anchor="middle" textLength="35.40" lengthAdjust="spacingAndGlyphs" stroke="#222" stroke-width="0.25">Panobinostat</text>
<text transform="translate(28.30,299.10) rotate(-90)" x="0" y="0" font-size="9.5" text-anchor="middle" textLength="55" lengthAdjust="spacingAndGlyphs" fill="#222" stroke="#222" stroke-width="0.25">Relative cell growth</text>
<path d="M144.60 265.70 V333.20 M141.60 333.20 H208.60" fill="none" stroke="#111" stroke-width="1.1"/>
<path d="M141.80 269.90 H144.60" stroke="#111" stroke-width="1"/>
<path d="M141.80 285.70 H144.60" stroke="#111" stroke-width="1"/>
<path d="M141.80 301.50 H144.60" stroke="#111" stroke-width="1"/>
<path d="M141.80 317.30 H144.60" stroke="#111" stroke-width="1"/>
<path d="M152.50 333.20 V335.80" stroke="#111" stroke-width="1"/>
<rect x="149.40" y="301.20" width="6.2" height="32.00" fill="#c8133a"/>
<path d="M152.50 300.60 V301.80 M151.10 300.60 H153.90 M151.10 301.80 H153.90" stroke="#111" stroke-width="0.9"/>
<text x="152.50" y="298.70" font-size="7.0" text-anchor="middle" fill="#333" textLength="11.40" lengthAdjust="spacingAndGlyphs" >156</text>
<path d="M168.27 333.20 V335.80" stroke="#111" stroke-width="1"/>
<rect x="165.17" y="292.30" width="6.2" height="40.90" fill="#1a4f86"/>
<path d="M168.27 291.70 V292.90 M166.87 291.70 H169.67 M166.87 292.90 H169.67" stroke="#111" stroke-width="0.9"/>
<text x="168.27" y="289.60" font-size="7.0" text-anchor="middle" fill="#333" textLength="11.40" lengthAdjust="spacingAndGlyphs" >198</text>
<path d="M184.04 333.20 V335.80" stroke="#111" stroke-width="1"/>
<rect x="180.94" y="297.00" width="6.2" height="36.20" fill="#3cb64b"/>
<path d="M184.04 296.40 V297.60 M182.64 296.40 H185.44 M182.64 297.60 H185.44" stroke="#111" stroke-width="0.9"/>
<text x="184.04" y="294.40" font-size="7.0" text-anchor="middle" fill="#333" textLength="11.40" lengthAdjust="spacingAndGlyphs" >176</text>
<path d="M199.81 333.20 V335.80" stroke="#111" stroke-width="1"/>
<rect x="196.71" y="273.90" width="6.2" height="59.30" fill="#5a2a78"/>
<path d="M199.81 268.60 V282.00 M198.41 268.60 H201.21 M198.41 282.00 H201.21" stroke="#111" stroke-width="0.9"/>
<text x="199.81" y="266.50" font-size="7.0" text-anchor="middle" fill="#333" textLength="11.40" lengthAdjust="spacingAndGlyphs" >287</text>
<text x="125.40" y="345.00" font-size="7.6" textLength="19.40" lengthAdjust="spacingAndGlyphs" >[ ] µM</text>
<text x="152.50" y="345.00" font-size="7.6" text-anchor="middle" textLength="8.60" lengthAdjust="spacingAndGlyphs" >20</text>
<text x="168.27" y="345.00" font-size="7.6" text-anchor="middle" textLength="4.30" lengthAdjust="spacingAndGlyphs" >4</text>
<text x="184.04" y="345.00" font-size="7.6" text-anchor="middle" textLength="10.40" lengthAdjust="spacingAndGlyphs" >0.8</text>
<text x="199.81" y="345.00" font-size="7.6" text-anchor="middle" textLength="9.00" lengthAdjust="spacingAndGlyphs" >Ct.</text>
<text x="176.10" y="357.50" font-size="8.5" text-anchor="middle" textLength="27.10" lengthAdjust="spacingAndGlyphs" stroke="#222" stroke-width="0.25">Belinostat</text>
<text transform="translate(135.20,299.10) rotate(-90)" x="0" y="0" font-size="9.5" text-anchor="middle" textLength="55" lengthAdjust="spacingAndGlyphs" fill="#222" stroke="#222" stroke-width="0.25">Relative cell growth</text>
<path d="M246.00 265.70 V333.20 M243.00 333.20 H310.00" fill="none" stroke="#111" stroke-width="1.1"/>
<path d="M243.20 269.90 H246.00" stroke="#111" stroke-width="1"/>
<path d="M243.20 285.70 H246.00" stroke="#111" stroke-width="1"/>
<path d="M243.20 301.50 H246.00" stroke="#111" stroke-width="1"/>
<path d="M243.20 317.30 H246.00" stroke="#111" stroke-width="1"/>
<path d="M253.90 333.20 V335.80" stroke="#111" stroke-width="1"/>
<rect x="250.80" y="296.10" width="6.2" height="37.10" fill="#c8133a"/>
<path d="M253.90 288.70 V304.00 M252.50 288.70 H255.30 M252.50 304.00 H255.30" stroke="#111" stroke-width="0.9"/>
<text x="253.90" y="286.00" font-size="7.0" text-anchor="middle" fill="#333" textLength="11.40" lengthAdjust="spacingAndGlyphs" >200</text>
<path d="M269.67 333.20 V335.80" stroke="#111" stroke-width="1"/>
<rect x="266.57" y="275.00" width="6.2" height="58.20" fill="#1a4f86"/>
<path d="M269.67 270.70 V278.60 M268.27 270.70 H271.07 M268.27 278.60 H271.07" stroke="#111" stroke-width="0.9"/>
<text x="269.67" y="269.50" font-size="7.0" text-anchor="middle" fill="#333" textLength="11.40" lengthAdjust="spacingAndGlyphs" >318</text>
<path d="M285.44 333.20 V335.80" stroke="#111" stroke-width="1"/>
<rect x="282.34" y="275.40" width="6.2" height="57.80" fill="#3cb64b"/>
<path d="M285.44 267.30 V283.20 M284.04 267.30 H286.84 M284.04 283.20 H286.84" stroke="#111" stroke-width="0.9"/>
<text x="285.44" y="265.90" font-size="7.0" text-anchor="middle" fill="#333" textLength="11.40" lengthAdjust="spacingAndGlyphs" >313</text>
<path d="M301.21 333.20 V335.80" stroke="#111" stroke-width="1"/>
<rect x="298.11" y="280.30" width="6.2" height="52.90" fill="#5a2a78"/>
<path d="M301.21 275.00 V285.50 M299.81 275.00 H302.61 M299.81 285.50 H302.61" stroke="#111" stroke-width="0.9"/>
<text x="301.21" y="271.80" font-size="7.0" text-anchor="middle" fill="#333" textLength="11.40" lengthAdjust="spacingAndGlyphs" >287</text>
<text x="226.80" y="345.00" font-size="7.6" textLength="19.40" lengthAdjust="spacingAndGlyphs" >[ ] µM</text>
<text x="253.90" y="345.00" font-size="7.6" text-anchor="middle" textLength="8.60" lengthAdjust="spacingAndGlyphs" >20</text>
<text x="269.67" y="345.00" font-size="7.6" text-anchor="middle" textLength="4.30" lengthAdjust="spacingAndGlyphs" >4</text>
<text x="285.44" y="345.00" font-size="7.6" text-anchor="middle" textLength="10.40" lengthAdjust="spacingAndGlyphs" >0.8</text>
<text x="301.21" y="345.00" font-size="7.6" text-anchor="middle" textLength="9.00" lengthAdjust="spacingAndGlyphs" >Ct.</text>
<text x="277.50" y="357.50" font-size="8.5" text-anchor="middle" textLength="30.40" lengthAdjust="spacingAndGlyphs" stroke="#222" stroke-width="0.25">Tacrolimus</text>
<text transform="translate(236.60,299.10) rotate(-90)" x="0" y="0" font-size="9.5" text-anchor="middle" textLength="55" lengthAdjust="spacingAndGlyphs" fill="#222" stroke="#222" stroke-width="0.25">Relative cell growth</text>
<path d="M347.80 265.70 V333.20 M344.80 333.20 H411.80" fill="none" stroke="#111" stroke-width="1.1"/>
<path d="M345.00 269.90 H347.80" stroke="#111" stroke-width="1"/>
<path d="M345.00 285.70 H347.80" stroke="#111" stroke-width="1"/>
<path d="M345.00 301.50 H347.80" stroke="#111" stroke-width="1"/>
<path d="M345.00 317.30 H347.80" stroke="#111" stroke-width="1"/>
<path d="M355.70 333.20 V335.80" stroke="#111" stroke-width="1"/>
<rect x="352.60" y="282.20" width="6.2" height="51.00" fill="#c8133a"/>
<path d="M355.70 274.30 V290.20 M354.30 274.30 H357.10 M354.30 290.20 H357.10" stroke="#111" stroke-width="0.9"/>
<text x="355.70" y="271.60" font-size="7.0" text-anchor="middle" fill="#333" textLength="11.40" lengthAdjust="spacingAndGlyphs" >265</text>
<path d="M371.47 333.20 V335.80" stroke="#111" stroke-width="1"/>
<rect x="368.37" y="270.70" width="6.2" height="62.50" fill="#1a4f86"/>
<path d="M371.47 269.00 V271.80 M370.07 269.00 H372.87 M370.07 271.80 H372.87" stroke="#111" stroke-width="0.9"/>
<text x="371.47" y="267.30" font-size="7.0" text-anchor="middle" fill="#333" textLength="11.40" lengthAdjust="spacingAndGlyphs" >324</text>
<path d="M387.24 333.20 V335.80" stroke="#111" stroke-width="1"/>
<rect x="384.14" y="275.00" width="6.2" height="58.20" fill="#3cb64b"/>
<path d="M387.24 266.50 V283.40 M385.84 266.50 H388.64 M385.84 283.40 H388.64" stroke="#111" stroke-width="0.9"/>
<text x="387.24" y="264.40" font-size="7.0" text-anchor="middle" fill="#333" textLength="11.40" lengthAdjust="spacingAndGlyphs" >301</text>
<path d="M403.01 333.20 V335.80" stroke="#111" stroke-width="1"/>
<rect x="399.91" y="278.60" width="6.2" height="54.60" fill="#5a2a78"/>
<path d="M403.01 272.80 V283.80 M401.61 272.80 H404.41 M401.61 283.80 H404.41" stroke="#111" stroke-width="0.9"/>
<text x="403.01" y="269.50" font-size="7.0" text-anchor="middle" fill="#333" textLength="11.40" lengthAdjust="spacingAndGlyphs" >283</text>
<text x="328.60" y="345.00" font-size="7.6" textLength="19.40" lengthAdjust="spacingAndGlyphs" >[ ] µM</text>
<text x="355.70" y="345.00" font-size="7.6" text-anchor="middle" textLength="8.60" lengthAdjust="spacingAndGlyphs" >20</text>
<text x="371.47" y="345.00" font-size="7.6" text-anchor="middle" textLength="4.30" lengthAdjust="spacingAndGlyphs" >4</text>
<text x="387.24" y="345.00" font-size="7.6" text-anchor="middle" textLength="10.40" lengthAdjust="spacingAndGlyphs" >0.8</text>
<text x="403.01" y="345.00" font-size="7.6" text-anchor="middle" textLength="9.00" lengthAdjust="spacingAndGlyphs" >Ct.</text>
<text x="379.30" y="357.50" font-size="8.5" text-anchor="middle" textLength="36.40" lengthAdjust="spacingAndGlyphs" stroke="#222" stroke-width="0.25">Methotrexate</text>
<text transform="translate(338.40,299.10) rotate(-90)" x="0" y="0" font-size="9.5" text-anchor="middle" textLength="55" lengthAdjust="spacingAndGlyphs" fill="#222" stroke="#222" stroke-width="0.25">Relative cell growth</text>
<path d="M449.60 265.70 V333.20 M446.60 333.20 H513.60" fill="none" stroke="#111" stroke-width="1.1"/>
<path d="M446.80 269.90 H449.60" stroke="#111" stroke-width="1"/>
<path d="M446.80 285.70 H449.60" stroke="#111" stroke-width="1"/>
<path d="M446.80 301.50 H449.60" stroke="#111" stroke-width="1"/>
<path d="M446.80 317.30 H449.60" stroke="#111" stroke-width="1"/>
<path d="M457.50 333.20 V335.80" stroke="#111" stroke-width="1"/>
<rect x="454.40" y="305.40" width="6.2" height="27.80" fill="#c8133a"/>
<path d="M457.50 300.80 V310.30 M456.10 300.80 H458.90 M456.10 310.30 H458.90" stroke="#111" stroke-width="0.9"/>
<text x="457.50" y="299.70" font-size="7.0" text-anchor="middle" fill="#333" textLength="11.40" lengthAdjust="spacingAndGlyphs" >135</text>
<path d="M473.27 333.20 V335.80" stroke="#111" stroke-width="1"/>
<rect x="470.17" y="289.80" width="6.2" height="43.40" fill="#1a4f86"/>
<path d="M473.27 287.00 V291.30 M471.87 287.00 H474.67 M471.87 291.30 H474.67" stroke="#111" stroke-width="0.9"/>
<text x="473.27" y="286.00" font-size="7.0" text-anchor="middle" fill="#333" textLength="11.40" lengthAdjust="spacingAndGlyphs" >212</text>
<path d="M489.04 333.20 V335.80" stroke="#111" stroke-width="1"/>
<rect x="485.94" y="292.90" width="6.2" height="40.30" fill="#3cb64b"/>
<path d="M489.04 286.00 V299.70 M487.64 286.00 H490.44 M487.64 299.70 H490.44" stroke="#111" stroke-width="0.9"/>
<text x="489.04" y="284.90" font-size="7.0" text-anchor="middle" fill="#333" textLength="11.40" lengthAdjust="spacingAndGlyphs" >198</text>
<path d="M504.81 333.20 V335.80" stroke="#111" stroke-width="1"/>
<rect x="501.71" y="275.80" width="6.2" height="57.40" fill="#5a2a78"/>
<path d="M504.81 270.10 V281.30 M503.41 270.10 H506.21 M503.41 281.30 H506.21" stroke="#111" stroke-width="0.9"/>
<text x="504.81" y="268.00" font-size="7.0" text-anchor="middle" fill="#333" textLength="11.40" lengthAdjust="spacingAndGlyphs" >283</text>
<text x="430.40" y="345.00" font-size="7.6" textLength="19.40" lengthAdjust="spacingAndGlyphs" >[ ] µM</text>
<text x="457.50" y="345.00" font-size="7.6" text-anchor="middle" textLength="8.60" lengthAdjust="spacingAndGlyphs" >20</text>
<text x="473.27" y="345.00" font-size="7.6" text-anchor="middle" textLength="4.30" lengthAdjust="spacingAndGlyphs" >4</text>
<text x="489.04" y="345.00" font-size="7.6" text-anchor="middle" textLength="10.40" lengthAdjust="spacingAndGlyphs" >0.8</text>
<text x="504.81" y="345.00" font-size="7.6" text-anchor="middle" textLength="9.00" lengthAdjust="spacingAndGlyphs" >Ct.</text>
<text x="481.10" y="357.50" font-size="8.5" text-anchor="middle" textLength="32.60" lengthAdjust="spacingAndGlyphs" stroke="#222" stroke-width="0.25">Doxorubicin</text>
<text transform="translate(440.20,299.10) rotate(-90)" x="0" y="0" font-size="9.5" text-anchor="middle" textLength="55" lengthAdjust="spacingAndGlyphs" fill="#222" stroke="#222" stroke-width="0.25">Relative cell growth</text>
<text x="6.80" y="379.70" font-size="10.6" fill="#000" font-weight="bold" stroke="#000" stroke-width="0.35">C</text>
<path d="M37.60 386.70 V457.40 H142.10" fill="none" stroke="#111" stroke-width="1.1"/>
<path d="M34.60 457.40 H37.60" stroke="#111" stroke-width="1"/>
<text x="31.60" y="459.95" font-size="7.3" text-anchor="end" textLength="4.15" lengthAdjust="spacingAndGlyphs" stroke="#222" stroke-width="0.15">0</text>
<path d="M34.60 444.08 H37.60" stroke="#111" stroke-width="1"/>
<text x="31.60" y="446.63" font-size="7.3" text-anchor="end" textLength="8.30" lengthAdjust="spacingAndGlyphs" stroke="#222" stroke-width="0.15">25</text>
<path d="M34.60 430.76 H37.60" stroke="#111" stroke-width="1"/>
<text x="31.60" y="433.31" font-size="7.3" text-anchor="end" textLength="8.30" lengthAdjust="spacingAndGlyphs" stroke="#222" stroke-width="0.15">50</text>
<path d="M34.60 417.44 H37.60" stroke="#111" stroke-width="1"/>
<text x="31.60" y="419.99" font-size="7.3" text-anchor="end" textLength="8.30" lengthAdjust="spacingAndGlyphs" stroke="#222" stroke-width="0.15">75</text>
<path d="M34.60 404.12 H37.60" stroke="#111" stroke-width="1"/>
<text x="31.60" y="406.67" font-size="7.3" text-anchor="end" textLength="12.45" lengthAdjust="spacingAndGlyphs" stroke="#222" stroke-width="0.15">100</text>
<path d="M34.60 390.80 H37.60" stroke="#111" stroke-width="1"/>
<text x="31.60" y="393.35" font-size="7.3" text-anchor="end" textLength="12.45" lengthAdjust="spacingAndGlyphs" stroke="#222" stroke-width="0.15">125</text>
<path d="M37.60 457.40 V460.30" stroke="#111" stroke-width="1"/>
<text x="35.90" y="469.70" font-size="7.8" text-anchor="middle" textLength="9.00" lengthAdjust="spacingAndGlyphs" stroke="#222" stroke-width="0.15">−7</text>
<path d="M54.28 457.40 V460.30" stroke="#111" stroke-width="1"/>
<text x="52.58" y="469.70" font-size="7.8" text-anchor="middle" textLength="9.00" lengthAdjust="spacingAndGlyphs" stroke="#222" stroke-width="0.15">−6</text>
<path d="M70.96 457.40 V460.30" stroke="#111" stroke-width="1"/>
<text x="69.26" y="469.70" font-size="7.8" text-anchor="middle" textLength="9.00" lengthAdjust="spacingAndGlyphs" stroke="#222" stroke-width="0.15">−5</text>
<path d="M87.64 457.40 V460.30" stroke="#111" stroke-width="1"/>
<text x="85.94" y="469.70" font-size="7.8" text-anchor="middle" textLength="9.00" lengthAdjust="spacingAndGlyphs" stroke="#222" stroke-width="0.15">−4</text>
<path d="M104.32 457.40 V460.30" stroke="#111" stroke-width="1"/>
<text x="102.62" y="469.70" font-size="7.8" text-anchor="middle" textLength="9.00" lengthAdjust="spacingAndGlyphs" stroke="#222" stroke-width="0.15">−3</text>
<path d="M121.00 457.40 V460.30" stroke="#111" stroke-width="1"/>
<text x="119.30" y="469.70" font-size="7.8" text-anchor="middle" textLength="9.00" lengthAdjust="spacingAndGlyphs" stroke="#222" stroke-width="0.15">−2</text>
<path d="M137.68 457.40 V460.30" stroke="#111" stroke-width="1"/>
<text x="135.98" y="469.70" font-size="7.8" text-anchor="middle" textLength="9.00" lengthAdjust="spacingAndGlyphs" stroke="#222" stroke-width="0.15">−1</text>
<text x="73.80" y="481.80" font-size="8.4" textLength="9.00" lengthAdjust="spacingAndGlyphs" stroke="#222" stroke-width="0.3">Log</text>
<text x="85.70" y="481.80" font-size="8.4" textLength="2.30" lengthAdjust="spacingAndGlyphs" stroke="#222" stroke-width="0.3">[</text>
<text x="90.50" y="481.80" font-size="8.4" textLength="2.30" lengthAdjust="spacingAndGlyphs" stroke="#222" stroke-width="0.3">]</text>
<text x="95.80" y="481.80" font-size="8.4" textLength="10.10" lengthAdjust="spacingAndGlyphs" stroke="#222" stroke-width="0.3">µM</text>
<text transform="translate(12.90,421.90) rotate(-90)" x="0" y="0" font-size="9.2" text-anchor="middle" textLength="56.5" lengthAdjust="spacingAndGlyphs" fill="#222" stroke="#222" stroke-width="0.25">Relative cell growth</text>
<text x="39.40" y="453.50" font-size="7.1" textLength="39.10" lengthAdjust="spacingAndGlyphs" stroke="#222" stroke-width="0.12">Patient #23</text>
<path d="M54.28 400.05 L55.39 400.09 L56.50 400.15 L57.62 400.22 L58.73 400.30 L59.84 400.40 L60.95 400.53 L62.06 400.69 L63.18 400.88 L64.29 401.11 L65.40 401.39 L66.51 401.72 L67.62 402.13 L68.74 402.61 L69.85 403.18 L70.96 403.85 L72.07 404.61 L73.18 405.48 L74.30 406.46 L75.41 407.54 L76.52 408.70 L77.63 409.93 L78.74 411.20 L79.86 412.49 L80.97 413.76 L82.08 414.99 L83.19 416.15 L84.30 417.23 L85.42 418.21 L86.53 419.08 L87.64 419.85 L88.75 420.51 L89.86 421.08 L90.98 421.56 L92.09 421.97 L93.20 422.30 L94.31 422.58 L95.42 422.82 L96.54 423.01 L97.65 423.16 L98.76 423.29 L99.87 423.39 L100.98 423.48 L102.10 423.54 L103.21 423.60 L104.32 423.64 L105.43 423.68 L106.54 423.71 L107.66 423.73 L108.77 423.75 L109.88 423.77 L110.99 423.78 L112.10 423.79 L113.22 423.80 L114.33 423.81 L115.44 423.81 L116.55 423.82 L117.66 423.82 L118.78 423.82 L119.89 423.82 L121.00 423.83" fill="none" stroke="#d0204a" stroke-width="1.1"/>
<path d="M54.28 398.79 V401.99 M53.18 398.79 H55.38 M53.18 401.99 H55.38" stroke="#d0204a" stroke-width="0.75" opacity="0.9"/>
<circle cx="54.28" cy="400.39" r="1.55" fill="#d0204a"/>
<path d="M77.63 408.38 V411.58 M76.53 408.38 H78.73 M76.53 411.58 H78.73" stroke="#d0204a" stroke-width="0.75" opacity="0.9"/>
<circle cx="77.63" cy="409.98" r="1.55" fill="#d0204a"/>
<path d="M82.64 414.40 V417.60 M81.54 414.40 H83.74 M81.54 417.60 H83.74" stroke="#d0204a" stroke-width="0.75" opacity="0.9"/>
<circle cx="82.64" cy="416.00" r="1.55" fill="#d0204a"/>
<path d="M87.64 417.65 V419.78 M86.54 417.65 H88.74 M86.54 419.78 H88.74" stroke="#d0204a" stroke-width="0.75" opacity="0.9"/>
<circle cx="87.64" cy="418.72" r="1.55" fill="#d0204a"/>
<path d="M92.64 418.35 V420.48 M91.54 418.35 H93.74 M91.54 420.48 H93.74" stroke="#d0204a" stroke-width="0.75" opacity="0.9"/>
<circle cx="92.64" cy="419.41" r="1.55" fill="#d0204a"/>
<path d="M104.32 419.57 V421.70 M103.22 419.57 H105.42 M103.22 421.70 H105.42" stroke="#d0204a" stroke-width="0.75" opacity="0.9"/>
<circle cx="104.32" cy="420.64" r="1.55" fill="#d0204a"/>
<path d="M121.00 422.24 V426.50 M119.90 422.24 H122.10 M119.90 426.50 H122.10" stroke="#d0204a" stroke-width="0.75" opacity="0.9"/>
<circle cx="121.00" cy="424.37" r="1.55" fill="#d0204a"/>
<path d="M54.28 403.66 L55.39 405.01 L56.50 406.50 L57.62 408.12 L58.73 409.85 L59.84 411.69 L60.95 413.61 L62.06 415.58 L63.18 417.57 L64.29 419.56 L65.40 421.52 L66.51 423.40 L67.62 425.20 L68.74 426.89 L69.85 428.46 L70.96 429.90 L72.07 431.20 L73.18 432.36 L74.30 433.40 L75.41 434.31 L76.52 435.11 L77.63 435.80 L78.74 436.40 L79.86 436.92 L80.97 437.36 L82.08 437.74 L83.19 438.07 L84.30 438.34 L85.42 438.57 L86.53 438.77 L87.64 438.94 L88.75 439.08 L89.86 439.19 L90.98 439.29 L92.09 439.38 L93.20 439.45 L94.31 439.51 L95.42 439.56 L96.54 439.60 L97.65 439.63 L98.76 439.66 L99.87 439.69 L100.98 439.71 L102.10 439.73 L103.21 439.74 L104.32 439.75 L105.43 439.76 L106.54 439.77 L107.66 439.78 L108.77 439.79 L109.88 439.79 L110.99 439.80 L112.10 439.80 L113.22 439.80 L114.33 439.80 L115.44 439.81 L116.55 439.81 L117.66 439.81 L118.78 439.81 L119.89 439.81 L121.00 439.81" fill="none" stroke="#235d98" stroke-width="1.1"/>
<path d="M54.28 399.32 V403.59 M53.18 399.32 H55.38 M53.18 403.59 H55.38" stroke="#235d98" stroke-width="0.75" opacity="0.9"/>
<circle cx="54.28" cy="401.46" r="1.55" fill="#235d98"/>
<path d="M72.63 429.69 V433.96 M71.53 429.69 H73.73 M71.53 433.96 H73.73" stroke="#235d98" stroke-width="0.75" opacity="0.9"/>
<circle cx="72.63" cy="431.83" r="1.55" fill="#235d98"/>
<path d="M77.63 433.96 V438.22 M76.53 433.96 H78.73 M76.53 438.22 H78.73" stroke="#235d98" stroke-width="0.75" opacity="0.9"/>
<circle cx="77.63" cy="436.09" r="1.55" fill="#235d98"/>
<path d="M82.64 435.56 V439.82 M81.54 435.56 H83.74 M81.54 439.82 H83.74" stroke="#235d98" stroke-width="0.75" opacity="0.9"/>
<circle cx="82.64" cy="437.69" r="1.55" fill="#235d98"/>
<path d="M87.64 435.56 V439.82 M86.54 435.56 H88.74 M86.54 439.82 H88.74" stroke="#235d98" stroke-width="0.75" opacity="0.9"/>
<circle cx="87.64" cy="437.69" r="1.55" fill="#235d98"/>
<path d="M92.64 436.09 V439.28 M91.54 436.09 H93.74 M91.54 439.28 H93.74" stroke="#235d98" stroke-width="0.75" opacity="0.9"/>
<circle cx="92.64" cy="437.69" r="1.55" fill="#235d98"/>
<path d="M104.32 437.15 V440.35 M103.22 437.15 H105.42 M103.22 440.35 H105.42" stroke="#235d98" stroke-width="0.75" opacity="0.9"/>
<circle cx="104.32" cy="438.75" r="1.55" fill="#235d98"/>
<path d="M121.00 440.35 V444.61 M119.90 440.35 H122.10 M119.90 444.61 H122.10" stroke="#235d98" stroke-width="0.75" opacity="0.9"/>
<circle cx="121.00" cy="442.48" r="1.55" fill="#235d98"/>
<path d="M54.28 399.99 L55.39 400.28 L56.50 400.64 L57.62 401.08 L58.73 401.62 L59.84 402.27 L60.95 403.06 L62.06 404.01 L63.18 405.12 L64.29 406.43 L65.40 407.95 L66.51 409.67 L67.62 411.59 L68.74 413.69 L69.85 415.95 L70.96 418.31 L72.07 420.72 L73.18 423.12 L74.30 425.46 L75.41 427.68 L76.52 429.73 L77.63 431.59 L78.74 433.25 L79.86 434.71 L80.97 435.96 L82.08 437.02 L83.19 437.92 L84.30 438.67 L85.42 439.29 L86.53 439.79 L87.64 440.21 L88.75 440.55 L89.86 440.82 L90.98 441.04 L92.09 441.22 L93.20 441.37 L94.31 441.48 L95.42 441.57 L96.54 441.65 L97.65 441.71 L98.76 441.76 L99.87 441.80 L100.98 441.83 L102.10 441.85 L103.21 441.87 L104.32 441.89 L105.43 441.90 L106.54 441.91 L107.66 441.92 L108.77 441.92 L109.88 441.93 L110.99 441.93 L112.10 441.94 L113.22 441.94 L114.33 441.94 L115.44 441.94 L116.55 441.94 L117.66 441.94 L118.78 441.95 L119.89 441.95 L121.00 441.95" fill="none" stroke="#47c24a" stroke-width="1.1"/>
<path d="M72.63 420.32 V422.45 M71.53 420.32 H73.73 M71.53 422.45 H73.73" stroke="#47c24a" stroke-width="0.75" opacity="0.9"/>
<circle cx="72.63" cy="421.38" r="1.55" fill="#47c24a"/>
<path d="M77.63 432.09 V435.29 M76.53 432.09 H78.73 M76.53 435.29 H78.73" stroke="#47c24a" stroke-width="0.75" opacity="0.9"/>
<circle cx="77.63" cy="433.69" r="1.55" fill="#47c24a"/>
<path d="M82.64 434.12 V437.31 M81.54 434.12 H83.74 M81.54 437.31 H83.74" stroke="#47c24a" stroke-width="0.75" opacity="0.9"/>
<circle cx="82.64" cy="435.72" r="1.55" fill="#47c24a"/>
<path d="M87.64 434.12 V437.31 M86.54 434.12 H88.74 M86.54 437.31 H88.74" stroke="#47c24a" stroke-width="0.75" opacity="0.9"/>
<circle cx="87.64" cy="435.72" r="1.55" fill="#47c24a"/>
<path d="M92.64 435.56 V438.75 M91.54 435.56 H93.74 M91.54 438.75 H93.74" stroke="#47c24a" stroke-width="0.75" opacity="0.9"/>
<circle cx="92.64" cy="437.15" r="1.55" fill="#47c24a"/>
<path d="M121.00 448.88 V449.94 M119.90 448.88 H122.10 M119.90 449.94 H122.10" stroke="#47c24a" stroke-width="0.75" opacity="0.9"/>
<circle cx="121.00" cy="449.41" r="1.55" fill="#47c24a"/>
<path d="M54.28 401.86 L55.39 402.16 L56.50 402.51 L57.62 402.91 L58.73 403.37 L59.84 403.88 L60.95 404.46 L62.06 405.12 L63.18 405.84 L64.29 406.65 L65.40 407.55 L66.51 408.53 L67.62 409.61 L68.74 410.76 L69.85 412.01 L70.96 413.33 L72.07 414.71 L73.18 416.16 L74.30 417.64 L75.41 419.16 L76.52 420.68 L77.63 422.20 L78.74 423.70 L79.86 425.15 L80.97 426.56 L82.08 427.89 L83.19 429.15 L84.30 430.33 L85.42 431.42 L86.53 432.43 L87.64 433.35 L88.75 434.18 L89.86 434.93 L90.98 435.60 L92.09 436.19 L93.20 436.72 L94.31 437.19 L95.42 437.60 L96.54 437.96 L97.65 438.28 L98.76 438.56 L99.87 438.80 L100.98 439.01 L102.10 439.19 L103.21 439.35 L104.32 439.49 L105.43 439.61 L106.54 439.71 L107.66 439.80 L108.77 439.87 L109.88 439.94 L110.99 440.00 L112.10 440.05 L113.22 440.09 L114.33 440.12 L115.44 440.16 L116.55 440.18 L117.66 440.21 L118.78 440.23 L119.89 440.24 L121.00 440.26" fill="none" stroke="#5e2d86" stroke-width="1.1"/>
<path d="M72.63 417.01 V419.14 M71.53 417.01 H73.73 M71.53 419.14 H73.73" stroke="#5e2d86" stroke-width="0.75" opacity="0.9"/>
<circle cx="72.63" cy="418.08" r="1.55" fill="#5e2d86"/>
<path d="M77.63 418.51 V421.70 M76.53 418.51 H78.73 M76.53 421.70 H78.73" stroke="#5e2d86" stroke-width="0.75" opacity="0.9"/>
<circle cx="77.63" cy="420.10" r="1.55" fill="#5e2d86"/>
<path d="M82.64 424.37 V426.50 M81.54 424.37 H83.74 M81.54 426.50 H83.74" stroke="#5e2d86" stroke-width="0.75" opacity="0.9"/>
<circle cx="82.64" cy="425.43" r="1.55" fill="#5e2d86"/>
<path d="M87.64 429.69 V432.89 M86.54 429.69 H88.74 M86.54 432.89 H88.74" stroke="#5e2d86" stroke-width="0.75" opacity="0.9"/>
<circle cx="87.64" cy="431.29" r="1.55" fill="#5e2d86"/>
<path d="M92.64 433.96 V437.15 M91.54 433.96 H93.74 M91.54 437.15 H93.74" stroke="#5e2d86" stroke-width="0.75" opacity="0.9"/>
<circle cx="92.64" cy="435.56" r="1.55" fill="#5e2d86"/>
<path d="M54.28 397.73 L55.39 397.73 L56.50 397.73 L57.62 397.73 L58.73 397.73 L59.84 397.73 L60.95 397.74 L62.06 397.74 L63.18 397.74 L64.29 397.74 L65.40 397.74 L66.51 397.75 L67.62 397.75 L68.74 397.75 L69.85 397.76 L70.96 397.76 L72.07 397.77 L73.18 397.78 L74.30 397.79 L75.41 397.80 L76.52 397.81 L77.63 397.82 L78.74 397.84 L79.86 397.86 L80.97 397.88 L82.08 397.90 L83.19 397.93 L84.30 397.97 L85.42 398.01 L86.53 398.05 L87.64 398.11 L88.75 398.17 L89.86 398.24 L90.98 398.32 L92.09 398.42 L93.20 398.54 L94.31 398.67 L95.42 398.82 L96.54 398.99 L97.65 399.20 L98.76 399.43 L99.87 399.70 L100.98 400.00 L102.10 400.36 L103.21 400.76 L104.32 401.21 L105.43 401.73 L106.54 402.32 L107.66 402.97 L108.77 403.71 L109.88 404.53 L110.99 405.43 L112.10 406.42 L113.22 407.49 L114.33 408.65 L115.44 409.89 L116.55 411.20 L117.66 412.57 L118.78 413.99 L119.89 415.44 L121.00 416.91" fill="none" stroke="#f5a01e" stroke-width="1.1"/>
<path d="M54.28 396.66 V398.79 M53.18 396.66 H55.38 M53.18 398.79 H55.38" stroke="#f5a01e" stroke-width="0.75" opacity="0.9"/>
<circle cx="54.28" cy="397.73" r="1.55" fill="#f5a01e"/>
<path d="M72.63 398.79 V403.05 M71.53 398.79 H73.73 M71.53 403.05 H73.73" stroke="#f5a01e" stroke-width="0.75" opacity="0.9"/>
<circle cx="72.63" cy="400.92" r="1.55" fill="#f5a01e"/>
<path d="M77.63 392.61 V399.01 M76.53 392.61 H78.73 M76.53 399.01 H78.73" stroke="#f5a01e" stroke-width="0.75" opacity="0.9"/>
<circle cx="77.63" cy="395.81" r="1.55" fill="#f5a01e"/>
<path d="M82.64 393.73 V395.86 M81.54 393.73 H83.74 M81.54 395.86 H83.74" stroke="#f5a01e" stroke-width="0.75" opacity="0.9"/>
<circle cx="82.64" cy="394.80" r="1.55" fill="#f5a01e"/>
<path d="M87.64 396.13 V399.32 M86.54 396.13 H88.74 M86.54 399.32 H88.74" stroke="#f5a01e" stroke-width="0.75" opacity="0.9"/>
<circle cx="87.64" cy="397.73" r="1.55" fill="#f5a01e"/>
<path d="M92.64 397.73 V399.86 M91.54 397.73 H93.74 M91.54 399.86 H93.74" stroke="#f5a01e" stroke-width="0.75" opacity="0.9"/>
<circle cx="92.64" cy="398.79" r="1.55" fill="#f5a01e"/>
<path d="M104.32 403.05 V406.25 M103.22 403.05 H105.42 M103.22 406.25 H105.42" stroke="#f5a01e" stroke-width="0.75" opacity="0.9"/>
<circle cx="104.32" cy="404.65" r="1.55" fill="#f5a01e"/>
<path d="M121.00 414.78 V419.04 M119.90 414.78 H122.10 M119.90 419.04 H122.10" stroke="#f5a01e" stroke-width="0.75" opacity="0.9"/>
<circle cx="121.00" cy="416.91" r="1.55" fill="#f5a01e"/>
<path d="M54.28 403.59 L55.39 403.59 L56.50 403.59 L57.62 403.59 L58.73 403.59 L59.84 403.59 L60.95 403.60 L62.06 403.60 L63.18 403.60 L64.29 403.60 L65.40 403.60 L66.51 403.60 L67.62 403.61 L68.74 403.61 L69.85 403.61 L70.96 403.62 L72.07 403.62 L73.18 403.62 L74.30 403.63 L75.41 403.64 L76.52 403.64 L77.63 403.65 L78.74 403.66 L79.86 403.67 L80.97 403.69 L82.08 403.70 L83.19 403.72 L84.30 403.74 L85.42 403.76 L86.53 403.78 L87.64 403.81 L88.75 403.84 L89.86 403.88 L90.98 403.92 L92.09 403.97 L93.20 404.03 L94.31 404.09 L95.42 404.17 L96.54 404.25 L97.65 404.35 L98.76 404.46 L99.87 404.58 L100.98 404.73 L102.10 404.89 L103.21 405.07 L104.32 405.28 L105.43 405.52 L106.54 405.78 L107.66 406.08 L108.77 406.42 L109.88 406.80 L110.99 407.22 L112.10 407.69 L113.22 408.21 L114.33 408.79 L115.44 409.42 L116.55 410.11 L117.66 410.86 L118.78 411.67 L119.89 412.54 L121.00 413.46" fill="none" stroke="#2a7a68" stroke-width="1.1"/>
<path d="M54.28 400.92 V404.12 M53.18 400.92 H55.38 M53.18 404.12 H55.38" stroke="#2a7a68" stroke-width="0.75" opacity="0.9"/>
<circle cx="54.28" cy="402.52" r="1.55" fill="#2a7a68"/>
<path d="M72.63 401.46 V405.72 M71.53 401.46 H73.73 M71.53 405.72 H73.73" stroke="#2a7a68" stroke-width="0.75" opacity="0.9"/>
<circle cx="72.63" cy="403.59" r="1.55" fill="#2a7a68"/>
<path d="M77.63 402.73 V415.52 M76.53 402.73 H78.73 M76.53 415.52 H78.73" stroke="#2a7a68" stroke-width="0.75" opacity="0.9"/>
<circle cx="77.63" cy="409.13" r="1.55" fill="#2a7a68"/>
<path d="M82.64 401.56 V404.76 M81.54 401.56 H83.74 M81.54 404.76 H83.74" stroke="#2a7a68" stroke-width="0.75" opacity="0.9"/>
<circle cx="82.64" cy="403.16" r="1.55" fill="#2a7a68"/>
<path d="M87.64 400.92 V404.12 M86.54 400.92 H88.74 M86.54 404.12 H88.74" stroke="#2a7a68" stroke-width="0.75" opacity="0.9"/>
<circle cx="87.64" cy="402.52" r="1.55" fill="#2a7a68"/>
<path d="M92.64 402.52 V405.72 M91.54 402.52 H93.74 M91.54 405.72 H93.74" stroke="#2a7a68" stroke-width="0.75" opacity="0.9"/>
<circle cx="92.64" cy="404.12" r="1.55" fill="#2a7a68"/>
<path d="M104.32 403.59 V405.72 M103.22 403.59 H105.42 M103.22 405.72 H105.42" stroke="#2a7a68" stroke-width="0.75" opacity="0.9"/>
<circle cx="104.32" cy="404.65" r="1.55" fill="#2a7a68"/>
<path d="M121.00 411.58 V414.78 M119.90 411.58 H122.10 M119.90 414.78 H122.10" stroke="#2a7a68" stroke-width="0.75" opacity="0.9"/>
<circle cx="121.00" cy="413.18" r="1.55" fill="#2a7a68"/>
<path d="M129.80 394.20 H137.20" stroke="#d94a68" stroke-width="1.2"/>
<text x="139.80" y="396.80" font-size="6.0" fill="#2a2a2a" textLength="29.89" lengthAdjust="spacingAndGlyphs" stroke="#2a2a2a" stroke-width="0.2">Bortezomib</text>
<path d="M129.80 400.67 H137.20" stroke="#5b8cc4" stroke-width="1.2"/>
<text x="139.80" y="403.27" font-size="6.0" fill="#2a2a2a" textLength="34.50" lengthAdjust="spacingAndGlyphs" stroke="#2a2a2a" stroke-width="0.2">Panobinostat</text>
<path d="M129.80 407.14 H137.20" stroke="#67d27a" stroke-width="1.2"/>
<text x="139.80" y="409.74" font-size="6.0" fill="#2a2a2a" textLength="31.21" lengthAdjust="spacingAndGlyphs" stroke="#2a2a2a" stroke-width="0.2">Romidepsin</text>
<path d="M129.80 413.61 H137.20" stroke="#9a72c4" stroke-width="1.2"/>
<text x="139.80" y="416.21" font-size="6.0" fill="#2a2a2a" textLength="25.95" lengthAdjust="spacingAndGlyphs" stroke="#2a2a2a" stroke-width="0.2">Belinostat</text>
<path d="M129.80 420.08 H137.20" stroke="#f7a93e" stroke-width="1.2"/>
<text x="139.80" y="422.68" font-size="6.0" fill="#2a2a2a" textLength="25.30" lengthAdjust="spacingAndGlyphs" stroke="#2a2a2a" stroke-width="0.2">Sorafenib</text>
<path d="M129.80 426.55 H137.20" stroke="#5aa592" stroke-width="1.2"/>
<text x="139.80" y="429.15" font-size="6.0" fill="#2a2a2a" textLength="30.23" lengthAdjust="spacingAndGlyphs" stroke="#2a2a2a" stroke-width="0.2">Bexarotene</text>
<path d="M209.50 386.80 V457.50 H314.00" fill="none" stroke="#111" stroke-width="1.1"/>
<path d="M206.50 457.50 H209.50" stroke="#111" stroke-width="1"/>
<text x="203.50" y="460.05" font-size="7.3" text-anchor="end" textLength="4.15" lengthAdjust="spacingAndGlyphs" stroke="#222" stroke-width="0.15">0</text>
<path d="M206.50 444.18 H209.50" stroke="#111" stroke-width="1"/>
<text x="203.50" y="446.73" font-size="7.3" text-anchor="end" textLength="8.30" lengthAdjust="spacingAndGlyphs" stroke="#222" stroke-width="0.15">25</text>
<path d="M206.50 430.86 H209.50" stroke="#111" stroke-width="1"/>
<text x="203.50" y="433.41" font-size="7.3" text-anchor="end" textLength="8.30" lengthAdjust="spacingAndGlyphs" stroke="#222" stroke-width="0.15">50</text>
<path d="M206.50 417.54 H209.50" stroke="#111" stroke-width="1"/>
<text x="203.50" y="420.09" font-size="7.3" text-anchor="end" textLength="8.30" lengthAdjust="spacingAndGlyphs" stroke="#222" stroke-width="0.15">75</text>
<path d="M206.50 404.22 H209.50" stroke="#111" stroke-width="1"/>
<text x="203.50" y="406.77" font-size="7.3" text-anchor="end" textLength="12.45" lengthAdjust="spacingAndGlyphs" stroke="#222" stroke-width="0.15">100</text>
<path d="M206.50 390.90 H209.50" stroke="#111" stroke-width="1"/>
<text x="203.50" y="393.45" font-size="7.3" text-anchor="end" textLength="12.45" lengthAdjust="spacingAndGlyphs" stroke="#222" stroke-width="0.15">125</text>
<path d="M209.50 457.50 V460.40" stroke="#111" stroke-width="1"/>
<text x="207.80" y="469.80" font-size="7.8" text-anchor="middle" textLength="9.00" lengthAdjust="spacingAndGlyphs" stroke="#222" stroke-width="0.15">−7</text>
<path d="M226.33 457.50 V460.40" stroke="#111" stroke-width="1"/>
<text x="224.63" y="469.80" font-size="7.8" text-anchor="middle" textLength="9.00" lengthAdjust="spacingAndGlyphs" stroke="#222" stroke-width="0.15">−6</text>
<path d="M243.16 457.50 V460.40" stroke="#111" stroke-width="1"/>
<text x="241.46" y="469.80" font-size="7.8" text-anchor="middle" textLength="9.00" lengthAdjust="spacingAndGlyphs" stroke="#222" stroke-width="0.15">−5</text>
<path d="M259.99 457.50 V460.40" stroke="#111" stroke-width="1"/>
<text x="258.29" y="469.80" font-size="7.8" text-anchor="middle" textLength="9.00" lengthAdjust="spacingAndGlyphs" stroke="#222" stroke-width="0.15">−4</text>
<path d="M276.82 457.50 V460.40" stroke="#111" stroke-width="1"/>
<text x="275.12" y="469.80" font-size="7.8" text-anchor="middle" textLength="9.00" lengthAdjust="spacingAndGlyphs" stroke="#222" stroke-width="0.15">−3</text>
<path d="M293.65 457.50 V460.40" stroke="#111" stroke-width="1"/>
<text x="291.95" y="469.80" font-size="7.8" text-anchor="middle" textLength="9.00" lengthAdjust="spacingAndGlyphs" stroke="#222" stroke-width="0.15">−2</text>
<path d="M310.48 457.50 V460.40" stroke="#111" stroke-width="1"/>
<text x="308.78" y="469.80" font-size="7.8" text-anchor="middle" textLength="9.00" lengthAdjust="spacingAndGlyphs" stroke="#222" stroke-width="0.15">−1</text>
<text x="245.70" y="481.90" font-size="8.4" textLength="9.00" lengthAdjust="spacingAndGlyphs" stroke="#222" stroke-width="0.3">Log</text>
<text x="257.60" y="481.90" font-size="8.4" textLength="2.30" lengthAdjust="spacingAndGlyphs" stroke="#222" stroke-width="0.3">[</text>
<text x="262.40" y="481.90" font-size="8.4" textLength="2.30" lengthAdjust="spacingAndGlyphs" stroke="#222" stroke-width="0.3">]</text>
<text x="267.70" y="481.90" font-size="8.4" textLength="10.10" lengthAdjust="spacingAndGlyphs" stroke="#222" stroke-width="0.3">µM</text>
<text transform="translate(184.80,422.00) rotate(-90)" x="0" y="0" font-size="9.2" text-anchor="middle" textLength="56.5" lengthAdjust="spacingAndGlyphs" fill="#222" stroke="#222" stroke-width="0.25">Relative cell growth</text>
<text x="211.30" y="453.60" font-size="7.1" textLength="39.10" lengthAdjust="spacingAndGlyphs" stroke="#222" stroke-width="0.12">Patient #24</text>
<path d="M226.33 397.84 L227.46 399.61 L228.59 401.70 L229.72 404.10 L230.85 406.78 L231.98 409.68 L233.11 412.69 L234.24 415.72 L235.37 418.65 L236.50 421.39 L237.63 423.85 L238.76 426.00 L239.89 427.84 L241.03 429.36 L242.16 430.61 L243.29 431.61 L244.42 432.40 L245.55 433.02 L246.68 433.51 L247.81 433.89 L248.94 434.18 L250.07 434.40 L251.20 434.57 L252.33 434.70 L253.46 434.80 L254.59 434.88 L255.72 434.94 L256.85 434.98 L257.98 435.02 L259.11 435.04 L260.24 435.06 L261.37 435.08 L262.50 435.09 L263.63 435.10 L264.76 435.10 L265.89 435.11 L267.02 435.11 L268.16 435.11 L269.29 435.12 L270.42 435.12 L271.55 435.12 L272.68 435.12 L273.81 435.12 L274.94 435.12 L276.07 435.12 L277.20 435.12 L278.33 435.12 L279.46 435.12 L280.59 435.12 L281.72 435.12 L282.85 435.12 L283.98 435.12 L285.11 435.12 L286.24 435.12 L287.37 435.12 L288.50 435.12 L289.63 435.12 L290.76 435.12 L291.89 435.12 L293.02 435.12 L294.15 435.12" fill="none" stroke="#d0204a" stroke-width="1.1"/>
<path d="M226.33 396.23 V399.42 M225.23 396.23 H227.43 M225.23 399.42 H227.43" stroke="#d0204a" stroke-width="0.75" opacity="0.9"/>
<circle cx="226.33" cy="397.83" r="1.55" fill="#d0204a"/>
<path d="M244.84 431.93 V435.12 M243.74 431.93 H245.94 M243.74 435.12 H245.94" stroke="#d0204a" stroke-width="0.75" opacity="0.9"/>
<circle cx="244.84" cy="433.52" r="1.55" fill="#d0204a"/>
<path d="M249.89 424.47 V430.86 M248.79 424.47 H250.99 M248.79 430.86 H250.99" stroke="#d0204a" stroke-width="0.75" opacity="0.9"/>
<circle cx="249.89" cy="427.66" r="1.55" fill="#d0204a"/>
<path d="M254.94 431.93 V435.12 M253.84 431.93 H256.04 M253.84 435.12 H256.04" stroke="#d0204a" stroke-width="0.75" opacity="0.9"/>
<circle cx="254.94" cy="433.52" r="1.55" fill="#d0204a"/>
<path d="M259.99 433.52 V436.72 M258.89 433.52 H261.09 M258.89 436.72 H261.09" stroke="#d0204a" stroke-width="0.75" opacity="0.9"/>
<circle cx="259.99" cy="435.12" r="1.55" fill="#d0204a"/>
<path d="M265.04 401.02 V443.65 M263.94 401.02 H266.14 M263.94 443.65 H266.14" stroke="#d0204a" stroke-width="0.75" opacity="0.9"/>
<circle cx="265.04" cy="422.34" r="1.55" fill="#d0204a"/>
<path d="M276.82 410.61 V451.11 M275.72 410.61 H277.92 M275.72 451.11 H277.92" stroke="#d0204a" stroke-width="0.75" opacity="0.9"/>
<circle cx="276.82" cy="430.86" r="1.55" fill="#d0204a"/>
<path d="M226.33 397.86 L227.46 399.07 L228.59 400.39 L229.72 401.83 L230.85 403.39 L231.98 405.05 L233.11 406.82 L234.24 408.68 L235.37 410.63 L236.50 412.63 L237.63 414.69 L238.76 416.77 L239.89 418.86 L241.03 420.93 L242.16 422.96 L243.29 424.94 L244.42 426.84 L245.55 428.66 L246.68 430.37 L247.81 431.98 L248.94 433.48 L250.07 434.86 L251.20 436.12 L252.33 437.27 L253.46 438.32 L254.59 439.26 L255.72 440.10 L256.85 440.86 L257.98 441.53 L259.11 442.12 L260.24 442.65 L261.37 443.11 L262.50 443.52 L263.63 443.88 L264.76 444.19 L265.89 444.47 L267.02 444.71 L268.16 444.92 L269.29 445.10 L270.42 445.26 L271.55 445.40 L272.68 445.52 L273.81 445.62 L274.94 445.71 L276.07 445.79 L277.20 445.86 L278.33 445.92 L279.46 445.97 L280.59 446.02 L281.72 446.06 L282.85 446.09 L283.98 446.12 L285.11 446.15 L286.24 446.17 L287.37 446.19 L288.50 446.20 L289.63 446.22 L290.76 446.23 L291.89 446.24 L293.02 446.25 L294.15 446.26" fill="none" stroke="#235d98" stroke-width="1.1"/>
<path d="M226.33 394.63 V399.96 M225.23 394.63 H227.43 M225.23 399.96 H227.43" stroke="#235d98" stroke-width="0.75" opacity="0.9"/>
<circle cx="226.33" cy="397.29" r="1.55" fill="#235d98"/>
<path d="M244.84 429.79 V434.06 M243.74 429.79 H245.94 M243.74 434.06 H245.94" stroke="#235d98" stroke-width="0.75" opacity="0.9"/>
<circle cx="244.84" cy="431.93" r="1.55" fill="#235d98"/>
<path d="M249.89 430.33 V434.59 M248.79 430.33 H250.99 M248.79 434.59 H250.99" stroke="#235d98" stroke-width="0.75" opacity="0.9"/>
<circle cx="249.89" cy="432.46" r="1.55" fill="#235d98"/>
<path d="M254.94 433.52 V436.72 M253.84 433.52 H256.04 M253.84 436.72 H256.04" stroke="#235d98" stroke-width="0.75" opacity="0.9"/>
<circle cx="254.94" cy="435.12" r="1.55" fill="#235d98"/>
<path d="M259.99 443.11 V446.31 M258.89 443.11 H261.09 M258.89 446.31 H261.09" stroke="#235d98" stroke-width="0.75" opacity="0.9"/>
<circle cx="259.99" cy="444.71" r="1.55" fill="#235d98"/>
<path d="M265.04 444.18 V447.38 M263.94 444.18 H266.14 M263.94 447.38 H266.14" stroke="#235d98" stroke-width="0.75" opacity="0.9"/>
<circle cx="265.04" cy="445.78" r="1.55" fill="#235d98"/>
<path d="M276.82 444.18 V447.38 M275.72 444.18 H277.92 M275.72 447.38 H277.92" stroke="#235d98" stroke-width="0.75" opacity="0.9"/>
<circle cx="276.82" cy="445.78" r="1.55" fill="#235d98"/>
<path d="M293.65 445.25 V447.38 M292.55 445.25 H294.75 M292.55 447.38 H294.75" stroke="#235d98" stroke-width="0.75" opacity="0.9"/>
<circle cx="293.65" cy="446.31" r="1.55" fill="#235d98"/>
<path d="M226.33 397.35 L227.46 398.51 L228.59 399.78 L229.72 401.16 L230.85 402.66 L231.98 404.27 L233.11 405.99 L234.24 407.80 L235.37 409.70 L236.50 411.66 L237.63 413.68 L238.76 415.74 L239.89 417.81 L241.03 419.87 L242.16 421.90 L243.29 423.88 L244.42 425.79 L245.55 427.63 L246.68 429.37 L247.81 431.00 L248.94 432.52 L250.07 433.93 L251.20 435.23 L252.33 436.41 L253.46 437.49 L254.59 438.46 L255.72 439.33 L256.85 440.11 L257.98 440.80 L259.11 441.42 L260.24 441.96 L261.37 442.44 L262.50 442.87 L263.63 443.24 L264.76 443.57 L265.89 443.85 L267.02 444.10 L268.16 444.32 L269.29 444.51 L270.42 444.68 L271.55 444.82 L272.68 444.95 L273.81 445.06 L274.94 445.16 L276.07 445.24 L277.20 445.31 L278.33 445.37 L279.46 445.43 L280.59 445.47 L281.72 445.51 L282.85 445.55 L283.98 445.58 L285.11 445.61 L286.24 445.63 L287.37 445.65 L288.50 445.67 L289.63 445.68 L290.76 445.69 L291.89 445.71 L293.02 445.72 L294.15 445.72" fill="none" stroke="#2f8a6a" stroke-width="1.1"/>
<path d="M254.94 430.33 V433.52 M253.84 430.33 H256.04 M253.84 433.52 H256.04" stroke="#2f8a6a" stroke-width="0.75" opacity="0.9"/>
<circle cx="254.94" cy="431.93" r="1.55" fill="#2f8a6a"/>
<path d="M293.65 445.25 V447.38 M292.55 445.25 H294.75 M292.55 447.38 H294.75" stroke="#2f8a6a" stroke-width="0.75" opacity="0.9"/>
<circle cx="293.65" cy="446.31" r="1.55" fill="#2f8a6a"/>
<path d="M226.33 397.79 L227.46 399.24 L228.59 400.91 L229.72 402.82 L230.85 404.97 L231.98 407.33 L233.11 409.88 L234.24 412.55 L235.37 415.30 L236.50 418.05 L237.63 420.73 L238.76 423.29 L239.89 425.67 L241.03 427.83 L242.16 429.76 L243.29 431.46 L244.42 432.92 L245.55 434.16 L246.68 435.21 L247.81 436.09 L248.94 436.81 L250.07 437.41 L251.20 437.89 L252.33 438.29 L253.46 438.61 L254.59 438.86 L255.72 439.07 L256.85 439.24 L257.98 439.38 L259.11 439.48 L260.24 439.57 L261.37 439.64 L262.50 439.70 L263.63 439.74 L264.76 439.78 L265.89 439.80 L267.02 439.83 L268.16 439.85 L269.29 439.86 L270.42 439.87 L271.55 439.88 L272.68 439.89 L273.81 439.89 L274.94 439.90 L276.07 439.90 L277.20 439.91 L278.33 439.91 L279.46 439.91 L280.59 439.91 L281.72 439.91 L282.85 439.91 L283.98 439.91 L285.11 439.92 L286.24 439.92 L287.37 439.92 L288.50 439.92 L289.63 439.92 L290.76 439.92 L291.89 439.92 L293.02 439.92 L294.15 439.92" fill="none" stroke="#5e2d86" stroke-width="1.1"/>
<path d="M259.99 433.52 V436.72 M258.89 433.52 H261.09 M258.89 436.72 H261.09" stroke="#5e2d86" stroke-width="0.75" opacity="0.9"/>
<circle cx="259.99" cy="435.12" r="1.55" fill="#5e2d86"/>
<path d="M265.04 431.93 V436.19 M263.94 431.93 H266.14 M263.94 436.19 H266.14" stroke="#5e2d86" stroke-width="0.75" opacity="0.9"/>
<circle cx="265.04" cy="434.06" r="1.55" fill="#5e2d86"/>
<path d="M226.33 397.79 L227.46 399.76 L228.59 402.15 L229.72 404.97 L230.85 408.18 L231.98 411.69 L233.11 415.39 L234.24 419.11 L235.37 422.69 L236.50 426.00 L237.63 428.93 L238.76 431.45 L239.89 433.55 L241.03 435.25 L242.16 436.60 L243.29 437.65 L244.42 438.47 L245.55 439.09 L246.68 439.57 L247.81 439.93 L248.94 440.19 L250.07 440.40 L251.20 440.55 L252.33 440.66 L253.46 440.74 L254.59 440.80 L255.72 440.85 L256.85 440.88 L257.98 440.91 L259.11 440.93 L260.24 440.94 L261.37 440.95 L262.50 440.96 L263.63 440.97 L264.76 440.97 L265.89 440.97 L267.02 440.98 L268.16 440.98 L269.29 440.98 L270.42 440.98 L271.55 440.98 L272.68 440.98 L273.81 440.98 L274.94 440.98 L276.07 440.98 L277.20 440.98 L278.33 440.98 L279.46 440.98 L280.59 440.98 L281.72 440.98 L282.85 440.98 L283.98 440.98 L285.11 440.98 L286.24 440.98 L287.37 440.98 L288.50 440.98 L289.63 440.98 L290.76 440.98 L291.89 440.98 L293.02 440.98 L294.15 440.98" fill="none" stroke="#f5a01e" stroke-width="1.1"/>
<path d="M244.84 436.19 V440.45 M243.74 436.19 H245.94 M243.74 440.45 H245.94" stroke="#f5a01e" stroke-width="0.75" opacity="0.9"/>
<circle cx="244.84" cy="438.32" r="1.55" fill="#f5a01e"/>
<path d="M249.89 439.38 V443.65 M248.79 439.38 H250.99 M248.79 443.65 H250.99" stroke="#f5a01e" stroke-width="0.75" opacity="0.9"/>
<circle cx="249.89" cy="441.52" r="1.55" fill="#f5a01e"/>
<path d="M259.99 439.38 V442.58 M258.89 439.38 H261.09 M258.89 442.58 H261.09" stroke="#f5a01e" stroke-width="0.75" opacity="0.9"/>
<circle cx="259.99" cy="440.98" r="1.55" fill="#f5a01e"/>
<path d="M265.04 437.79 V440.98 M263.94 437.79 H266.14 M263.94 440.98 H266.14" stroke="#f5a01e" stroke-width="0.75" opacity="0.9"/>
<circle cx="265.04" cy="439.38" r="1.55" fill="#f5a01e"/>
<path d="M276.82 437.79 V440.98 M275.72 437.79 H277.92 M275.72 440.98 H277.92" stroke="#f5a01e" stroke-width="0.75" opacity="0.9"/>
<circle cx="276.82" cy="439.38" r="1.55" fill="#f5a01e"/>
<path d="M226.33 398.79 L227.46 400.97 L228.59 403.59 L229.72 406.65 L230.85 410.09 L231.98 413.83 L233.11 417.71 L234.24 421.60 L235.37 425.31 L236.50 428.72 L237.63 431.74 L238.76 434.32 L239.89 436.47 L241.03 438.21 L242.16 439.60 L243.29 440.69 L244.42 441.53 L245.55 442.18 L246.68 442.68 L247.81 443.05 L248.94 443.33 L250.07 443.55 L251.20 443.71 L252.33 443.83 L253.46 443.92 L254.59 443.98 L255.72 444.03 L256.85 444.07 L257.98 444.10 L259.11 444.12 L260.24 444.13 L261.37 444.15 L262.50 444.15 L263.63 444.16 L264.76 444.17 L265.89 444.17 L267.02 444.17 L268.16 444.17 L269.29 444.18 L270.42 444.18 L271.55 444.18 L272.68 444.18 L273.81 444.18 L274.94 444.18 L276.07 444.18 L277.20 444.18 L278.33 444.18 L279.46 444.18 L280.59 444.18 L281.72 444.18 L282.85 444.18 L283.98 444.18 L285.11 444.18 L286.24 444.18 L287.37 444.18 L288.50 444.18 L289.63 444.18 L290.76 444.18 L291.89 444.18 L293.02 444.18 L294.15 444.18" fill="none" stroke="#9a92dc" stroke-width="1.1"/>
<path d="M244.84 439.38 V443.65 M243.74 439.38 H245.94 M243.74 443.65 H245.94" stroke="#9a92dc" stroke-width="0.75" opacity="0.9"/>
<circle cx="244.84" cy="441.52" r="1.55" fill="#9a92dc"/>
<path d="M249.89 442.05 V446.31 M248.79 442.05 H250.99 M248.79 446.31 H250.99" stroke="#9a92dc" stroke-width="0.75" opacity="0.9"/>
<circle cx="249.89" cy="444.18" r="1.55" fill="#9a92dc"/>
<path d="M254.94 442.05 V445.25 M253.84 442.05 H256.04 M253.84 445.25 H256.04" stroke="#9a92dc" stroke-width="0.75" opacity="0.9"/>
<circle cx="254.94" cy="443.65" r="1.55" fill="#9a92dc"/>
<path d="M298.30 394.20 H305.70" stroke="#d94a68" stroke-width="1.2"/>
<text x="308.30" y="396.80" font-size="6.0" fill="#2a2a2a" textLength="29.89" lengthAdjust="spacingAndGlyphs" stroke="#2a2a2a" stroke-width="0.2">Bortezomib</text>
<path d="M298.30 401.17 H305.70" stroke="#3f74ae" stroke-width="1.2"/>
<text x="308.30" y="403.77" font-size="6.0" fill="#2a2a2a" textLength="34.50" lengthAdjust="spacingAndGlyphs" stroke="#2a2a2a" stroke-width="0.2">Panobinostat</text>
<path d="M298.30 408.14 H305.70" stroke="#67d27a" stroke-width="1.2"/>
<text x="308.30" y="410.74" font-size="6.0" fill="#2a2a2a" textLength="31.21" lengthAdjust="spacingAndGlyphs" stroke="#2a2a2a" stroke-width="0.2">Romidepsin</text>
<path d="M298.30 415.11 H305.70" stroke="#6e3f98" stroke-width="1.2"/>
<text x="308.30" y="417.71" font-size="6.0" fill="#2a2a2a" textLength="25.95" lengthAdjust="spacingAndGlyphs" stroke="#2a2a2a" stroke-width="0.2">Belinostat</text>
<path d="M298.30 422.08 H305.70" stroke="#f7a93e" stroke-width="1.2"/>
<text x="308.30" y="424.68" font-size="6.0" fill="#2a2a2a" textLength="25.30" lengthAdjust="spacingAndGlyphs" stroke="#2a2a2a" stroke-width="0.2">Sorafenib</text>
<path d="M298.30 429.05 H305.70" stroke="#a49ce0" stroke-width="1.2"/>
<text x="308.30" y="431.65" font-size="6.0" fill="#2a2a2a" textLength="34.48" lengthAdjust="spacingAndGlyphs" stroke="#2a2a2a" stroke-width="0.2">Temsirolimus</text>
<path d="M378.20 386.80 V457.50 H482.70" fill="none" stroke="#111" stroke-width="1.1"/>
<path d="M375.20 457.50 H378.20" stroke="#111" stroke-width="1"/>
<text x="372.20" y="460.05" font-size="7.3" text-anchor="end" textLength="4.15" lengthAdjust="spacingAndGlyphs" stroke="#222" stroke-width="0.15">0</text>
<path d="M375.20 444.18 H378.20" stroke="#111" stroke-width="1"/>
<text x="372.20" y="446.73" font-size="7.3" text-anchor="end" textLength="8.30" lengthAdjust="spacingAndGlyphs" stroke="#222" stroke-width="0.15">25</text>
<path d="M375.20 430.86 H378.20" stroke="#111" stroke-width="1"/>
<text x="372.20" y="433.41" font-size="7.3" text-anchor="end" textLength="8.30" lengthAdjust="spacingAndGlyphs" stroke="#222" stroke-width="0.15">50</text>
<path d="M375.20 417.54 H378.20" stroke="#111" stroke-width="1"/>
<text x="372.20" y="420.09" font-size="7.3" text-anchor="end" textLength="8.30" lengthAdjust="spacingAndGlyphs" stroke="#222" stroke-width="0.15">75</text>
<path d="M375.20 404.22 H378.20" stroke="#111" stroke-width="1"/>
<text x="372.20" y="406.77" font-size="7.3" text-anchor="end" textLength="12.45" lengthAdjust="spacingAndGlyphs" stroke="#222" stroke-width="0.15">100</text>
<path d="M375.20 390.90 H378.20" stroke="#111" stroke-width="1"/>
<text x="372.20" y="393.45" font-size="7.3" text-anchor="end" textLength="12.45" lengthAdjust="spacingAndGlyphs" stroke="#222" stroke-width="0.15">125</text>
<path d="M378.20 457.50 V460.40" stroke="#111" stroke-width="1"/>
<text x="376.50" y="469.80" font-size="7.8" text-anchor="middle" textLength="9.00" lengthAdjust="spacingAndGlyphs" stroke="#222" stroke-width="0.15">−7</text>
<path d="M394.70 457.50 V460.40" stroke="#111" stroke-width="1"/>
<text x="393.00" y="469.80" font-size="7.8" text-anchor="middle" textLength="9.00" lengthAdjust="spacingAndGlyphs" stroke="#222" stroke-width="0.15">−6</text>
<path d="M411.20 457.50 V460.40" stroke="#111" stroke-width="1"/>
<text x="409.50" y="469.80" font-size="7.8" text-anchor="middle" textLength="9.00" lengthAdjust="spacingAndGlyphs" stroke="#222" stroke-width="0.15">−5</text>
<path d="M427.70 457.50 V460.40" stroke="#111" stroke-width="1"/>
<text x="426.00" y="469.80" font-size="7.8" text-anchor="middle" textLength="9.00" lengthAdjust="spacingAndGlyphs" stroke="#222" stroke-width="0.15">−4</text>
<path d="M444.20 457.50 V460.40" stroke="#111" stroke-width="1"/>
<text x="442.50" y="469.80" font-size="7.8" text-anchor="middle" textLength="9.00" lengthAdjust="spacingAndGlyphs" stroke="#222" stroke-width="0.15">−3</text>
<path d="M460.70 457.50 V460.40" stroke="#111" stroke-width="1"/>
<text x="459.00" y="469.80" font-size="7.8" text-anchor="middle" textLength="9.00" lengthAdjust="spacingAndGlyphs" stroke="#222" stroke-width="0.15">−2</text>
<path d="M477.20 457.50 V460.40" stroke="#111" stroke-width="1"/>
<text x="475.50" y="469.80" font-size="7.8" text-anchor="middle" textLength="9.00" lengthAdjust="spacingAndGlyphs" stroke="#222" stroke-width="0.15">−1</text>
<text x="414.40" y="481.90" font-size="8.4" textLength="9.00" lengthAdjust="spacingAndGlyphs" stroke="#222" stroke-width="0.3">Log</text>
<text x="426.30" y="481.90" font-size="8.4" textLength="2.30" lengthAdjust="spacingAndGlyphs" stroke="#222" stroke-width="0.3">[</text>
<text x="431.10" y="481.90" font-size="8.4" textLength="2.30" lengthAdjust="spacingAndGlyphs" stroke="#222" stroke-width="0.3">]</text>
<text x="436.40" y="481.90" font-size="8.4" textLength="10.10" lengthAdjust="spacingAndGlyphs" stroke="#222" stroke-width="0.3">µM</text>
<text transform="translate(353.50,422.00) rotate(-90)" x="0" y="0" font-size="9.2" text-anchor="middle" textLength="56.5" lengthAdjust="spacingAndGlyphs" fill="#222" stroke="#222" stroke-width="0.25">Relative cell growth</text>
<text x="380.00" y="453.60" font-size="7.1" textLength="39.10" lengthAdjust="spacingAndGlyphs" stroke="#222" stroke-width="0.12">Patient #25</text>
<path d="M393.88 397.84 L394.97 397.84 L396.06 397.84 L397.16 397.85 L398.25 397.85 L399.35 397.86 L400.44 397.87 L401.54 397.88 L402.63 397.89 L403.73 397.90 L404.82 397.92 L405.91 397.94 L407.01 397.97 L408.10 398.00 L409.20 398.04 L410.29 398.10 L411.39 398.16 L412.48 398.24 L413.58 398.34 L414.67 398.46 L415.76 398.60 L416.86 398.79 L417.95 399.01 L419.05 399.28 L420.14 399.62 L421.24 400.02 L422.33 400.52 L423.43 401.12 L424.52 401.84 L425.62 402.70 L426.71 403.71 L427.80 404.91 L428.90 406.30 L429.99 407.90 L431.09 409.70 L432.18 411.71 L433.28 413.91 L434.37 416.27 L435.47 418.75 L436.56 421.30 L437.65 423.86 L438.75 426.37 L439.84 428.78 L440.94 431.05 L442.03 433.14 L443.13 435.03 L444.22 436.70 L445.32 438.17 L446.41 439.44 L447.51 440.53 L448.60 441.45 L449.69 442.22 L450.79 442.86 L451.88 443.40 L452.98 443.84 L454.07 444.20 L455.17 444.49 L456.26 444.74 L457.36 444.93 L458.45 445.09 L459.54 445.22" fill="none" stroke="#3a4b5c" stroke-width="1.1"/>
<path d="M394.70 403.69 V407.95 M393.60 403.69 H395.80 M393.60 407.95 H395.80" stroke="#3a4b5c" stroke-width="0.75" opacity="0.9"/>
<circle cx="394.70" cy="405.82" r="1.55" fill="#3a4b5c"/>
<path d="M411.20 402.62 V405.82 M410.10 402.62 H412.30 M410.10 405.82 H412.30" stroke="#3a4b5c" stroke-width="0.75" opacity="0.9"/>
<circle cx="411.20" cy="404.22" r="1.55" fill="#3a4b5c"/>
<path d="M416.15 395.16 V401.56 M415.05 395.16 H417.25 M415.05 401.56 H417.25" stroke="#3a4b5c" stroke-width="0.75" opacity="0.9"/>
<circle cx="416.15" cy="398.36" r="1.55" fill="#3a4b5c"/>
<path d="M421.10 393.03 V396.23 M420.00 393.03 H422.20 M420.00 396.23 H422.20" stroke="#3a4b5c" stroke-width="0.75" opacity="0.9"/>
<circle cx="421.10" cy="394.63" r="1.55" fill="#3a4b5c"/>
<path d="M426.05 393.03 V396.23 M424.95 393.03 H427.15 M424.95 396.23 H427.15" stroke="#3a4b5c" stroke-width="0.75" opacity="0.9"/>
<circle cx="426.05" cy="394.63" r="1.55" fill="#3a4b5c"/>
<path d="M431.00 416.47 V419.67 M429.90 416.47 H432.10 M429.90 419.67 H432.10" stroke="#3a4b5c" stroke-width="0.75" opacity="0.9"/>
<circle cx="431.00" cy="418.07" r="1.55" fill="#3a4b5c"/>
<path d="M442.55 438.85 V443.11 M441.45 438.85 H443.65 M441.45 443.11 H443.65" stroke="#3a4b5c" stroke-width="0.75" opacity="0.9"/>
<circle cx="442.55" cy="440.98" r="1.55" fill="#3a4b5c"/>
<path d="M459.54 438.85 V442.05 M458.44 438.85 H460.64 M458.44 442.05 H460.64" stroke="#3a4b5c" stroke-width="0.75" opacity="0.9"/>
<circle cx="459.54" cy="440.45" r="1.55" fill="#3a4b5c"/>
<path d="M393.88 406.80 L394.97 406.76 L396.06 406.72 L397.16 406.67 L398.25 406.63 L399.35 406.58 L400.44 406.52 L401.54 406.47 L402.63 406.41 L403.73 406.35 L404.82 406.29 L405.91 406.22 L407.01 406.16 L408.10 406.09 L409.20 406.02 L410.29 405.94 L411.39 405.87 L412.48 405.79 L413.58 405.72 L414.67 405.64 L415.76 405.56 L416.86 405.48 L417.95 405.40 L419.05 405.32 L420.14 405.23 L421.24 405.15 L422.33 405.07 L423.43 404.99 L424.52 404.91 L425.62 404.83 L426.71 404.76 L427.80 404.68 L428.90 404.61 L429.99 404.54 L431.09 404.46 L432.18 404.40 L433.28 404.33 L434.37 404.27 L435.47 404.20 L436.56 404.15 L437.65 404.09 L438.75 404.03 L439.84 403.98 L440.94 403.93 L442.03 403.88 L443.13 403.84 L444.22 403.80 L445.32 403.76 L446.41 403.72 L447.51 403.68 L448.60 403.65 L449.69 403.62 L450.79 403.58 L451.88 403.56 L452.98 403.53 L454.07 403.50 L455.17 403.48 L456.26 403.46 L457.36 403.44 L458.45 403.42 L459.54 403.40" fill="none" stroke="#2eb4e6" stroke-width="1.1"/>
<path d="M394.70 405.82 V409.02 M393.60 405.82 H395.80 M393.60 409.02 H395.80" stroke="#2eb4e6" stroke-width="0.75" opacity="0.9"/>
<circle cx="394.70" cy="407.42" r="1.55" fill="#2eb4e6"/>
<path d="M411.20 406.88 V410.08 M410.10 406.88 H412.30 M410.10 410.08 H412.30" stroke="#2eb4e6" stroke-width="0.75" opacity="0.9"/>
<circle cx="411.20" cy="408.48" r="1.55" fill="#2eb4e6"/>
<path d="M416.15 405.29 V408.48 M415.05 405.29 H417.25 M415.05 408.48 H417.25" stroke="#2eb4e6" stroke-width="0.75" opacity="0.9"/>
<circle cx="416.15" cy="406.88" r="1.55" fill="#2eb4e6"/>
<path d="M421.10 399.96 V404.22 M420.00 399.96 H422.20 M420.00 404.22 H422.20" stroke="#2eb4e6" stroke-width="0.75" opacity="0.9"/>
<circle cx="421.10" cy="402.09" r="1.55" fill="#2eb4e6"/>
<path d="M426.05 397.29 V400.49 M424.95 397.29 H427.15 M424.95 400.49 H427.15" stroke="#2eb4e6" stroke-width="0.75" opacity="0.9"/>
<circle cx="426.05" cy="398.89" r="1.55" fill="#2eb4e6"/>
<path d="M431.00 397.29 V400.49 M429.90 397.29 H432.10 M429.90 400.49 H432.10" stroke="#2eb4e6" stroke-width="0.75" opacity="0.9"/>
<circle cx="431.00" cy="398.89" r="1.55" fill="#2eb4e6"/>
<path d="M442.55 401.56 V406.88 M441.45 401.56 H443.65 M441.45 406.88 H443.65" stroke="#2eb4e6" stroke-width="0.75" opacity="0.9"/>
<circle cx="442.55" cy="404.22" r="1.55" fill="#2eb4e6"/>
<path d="M459.54 410.61 V412.74 M458.44 410.61 H460.64 M458.44 412.74 H460.64" stroke="#2eb4e6" stroke-width="0.75" opacity="0.9"/>
<circle cx="459.54" cy="411.68" r="1.55" fill="#2eb4e6"/>
<path d="M393.88 403.69 L394.97 403.70 L396.06 403.70 L397.16 403.70 L398.25 403.70 L399.35 403.70 L400.44 403.71 L401.54 403.71 L402.63 403.71 L403.73 403.72 L404.82 403.72 L405.91 403.73 L407.01 403.73 L408.10 403.74 L409.20 403.75 L410.29 403.76 L411.39 403.77 L412.48 403.78 L413.58 403.80 L414.67 403.82 L415.76 403.84 L416.86 403.87 L417.95 403.90 L419.05 403.93 L420.14 403.97 L421.24 404.02 L422.33 404.07 L423.43 404.13 L424.52 404.20 L425.62 404.29 L426.71 404.38 L427.80 404.49 L428.90 404.62 L429.99 404.77 L431.09 404.95 L432.18 405.14 L433.28 405.37 L434.37 405.63 L435.47 405.93 L436.56 406.27 L437.65 406.66 L438.75 407.10 L439.84 407.60 L440.94 408.15 L442.03 408.78 L443.13 409.47 L444.22 410.23 L445.32 411.06 L446.41 411.97 L447.51 412.95 L448.60 413.99 L449.69 415.09 L450.79 416.25 L451.88 417.44 L452.98 418.67 L454.07 419.91 L455.17 421.15 L456.26 422.37 L457.36 423.57 L458.45 424.72 L459.54 425.83" fill="none" stroke="#9888d8" stroke-width="1.1"/>
<path d="M394.70 402.09 V405.29 M393.60 402.09 H395.80 M393.60 405.29 H395.80" stroke="#9888d8" stroke-width="0.75" opacity="0.9"/>
<circle cx="394.70" cy="403.69" r="1.55" fill="#9888d8"/>
<path d="M411.20 401.56 V404.75 M410.10 401.56 H412.30 M410.10 404.75 H412.30" stroke="#9888d8" stroke-width="0.75" opacity="0.9"/>
<circle cx="411.20" cy="403.15" r="1.55" fill="#9888d8"/>
<path d="M416.15 398.89 V403.15 M415.05 398.89 H417.25 M415.05 403.15 H417.25" stroke="#9888d8" stroke-width="0.75" opacity="0.9"/>
<circle cx="416.15" cy="401.02" r="1.55" fill="#9888d8"/>
<path d="M421.10 400.49 V403.69 M420.00 400.49 H422.20 M420.00 403.69 H422.20" stroke="#9888d8" stroke-width="0.75" opacity="0.9"/>
<circle cx="421.10" cy="402.09" r="1.55" fill="#9888d8"/>
<path d="M426.05 401.56 V404.75 M424.95 401.56 H427.15 M424.95 404.75 H427.15" stroke="#9888d8" stroke-width="0.75" opacity="0.9"/>
<circle cx="426.05" cy="403.15" r="1.55" fill="#9888d8"/>
<path d="M431.00 403.69 V406.88 M429.90 403.69 H432.10 M429.90 406.88 H432.10" stroke="#9888d8" stroke-width="0.75" opacity="0.9"/>
<circle cx="431.00" cy="405.29" r="1.55" fill="#9888d8"/>
<path d="M442.55 405.29 V409.55 M441.45 405.29 H443.65 M441.45 409.55 H443.65" stroke="#9888d8" stroke-width="0.75" opacity="0.9"/>
<circle cx="442.55" cy="407.42" r="1.55" fill="#9888d8"/>
<path d="M459.54 424.47 V427.66 M458.44 424.47 H460.64 M458.44 427.66 H460.64" stroke="#9888d8" stroke-width="0.75" opacity="0.9"/>
<circle cx="459.54" cy="426.06" r="1.55" fill="#9888d8"/>
<path d="M393.88 399.98 L394.97 399.99 L396.06 399.99 L397.16 400.00 L398.25 400.00 L399.35 400.01 L400.44 400.02 L401.54 400.03 L402.63 400.04 L403.73 400.05 L404.82 400.07 L405.91 400.08 L407.01 400.10 L408.10 400.12 L409.20 400.14 L410.29 400.17 L411.39 400.20 L412.48 400.24 L413.58 400.28 L414.67 400.32 L415.76 400.38 L416.86 400.44 L417.95 400.51 L419.05 400.59 L420.14 400.68 L421.24 400.78 L422.33 400.90 L423.43 401.03 L424.52 401.18 L425.62 401.35 L426.71 401.55 L427.80 401.77 L428.90 402.02 L429.99 402.29 L431.09 402.61 L432.18 402.95 L433.28 403.34 L434.37 403.77 L435.47 404.25 L436.56 404.78 L437.65 405.35 L438.75 405.98 L439.84 406.65 L440.94 407.38 L442.03 408.16 L443.13 408.98 L444.22 409.84 L445.32 410.74 L446.41 411.67 L447.51 412.62 L448.60 413.59 L449.69 414.56 L450.79 415.52 L451.88 416.48 L452.98 417.41 L454.07 418.31 L455.17 419.17 L456.26 419.99 L457.36 420.77 L458.45 421.50 L459.54 422.17" fill="none" stroke="#ea2a92" stroke-width="1.1"/>
<path d="M416.15 397.29 V400.49 M415.05 397.29 H417.25 M415.05 400.49 H417.25" stroke="#ea2a92" stroke-width="0.75" opacity="0.9"/>
<circle cx="416.15" cy="398.89" r="1.55" fill="#ea2a92"/>
<path d="M421.10 395.16 V399.42 M420.00 395.16 H422.20 M420.00 399.42 H422.20" stroke="#ea2a92" stroke-width="0.75" opacity="0.9"/>
<circle cx="421.10" cy="397.29" r="1.55" fill="#ea2a92"/>
<path d="M426.05 398.36 V401.56 M424.95 398.36 H427.15 M424.95 401.56 H427.15" stroke="#ea2a92" stroke-width="0.75" opacity="0.9"/>
<circle cx="426.05" cy="399.96" r="1.55" fill="#ea2a92"/>
<path d="M442.55 413.81 V424.47 M441.45 413.81 H443.65 M441.45 424.47 H443.65" stroke="#ea2a92" stroke-width="0.75" opacity="0.9"/>
<circle cx="442.55" cy="419.14" r="1.55" fill="#ea2a92"/>
<path d="M459.54 419.14 V423.40 M458.44 419.14 H460.64 M458.44 423.40 H460.64" stroke="#ea2a92" stroke-width="0.75" opacity="0.9"/>
<circle cx="459.54" cy="421.27" r="1.55" fill="#ea2a92"/>
<path d="M393.88 400.18 L394.97 400.24 L396.06 400.31 L397.16 400.40 L398.25 400.51 L399.35 400.65 L400.44 400.83 L401.54 401.05 L402.63 401.32 L403.73 401.66 L404.82 402.08 L405.91 402.59 L407.01 403.22 L408.10 403.99 L409.20 404.92 L410.29 406.04 L411.39 407.36 L412.48 408.90 L413.58 410.69 L414.67 412.71 L415.76 414.95 L416.86 417.39 L417.95 419.98 L419.05 422.67 L420.14 425.38 L421.24 428.05 L422.33 430.61 L423.43 433.00 L424.52 435.19 L425.62 437.15 L426.71 438.86 L427.80 440.35 L428.90 441.61 L429.99 442.68 L431.09 443.56 L432.18 444.29 L433.28 444.89 L434.37 445.38 L435.47 445.77 L436.56 446.09 L437.65 446.35 L438.75 446.56 L439.84 446.72 L440.94 446.85 L442.03 446.96 L443.13 447.05 L444.22 447.11 L445.32 447.17 L446.41 447.21 L447.51 447.24 L448.60 447.27 L449.69 447.29 L450.79 447.31 L451.88 447.32 L452.98 447.33 L454.07 447.34 L455.17 447.35 L456.26 447.36 L457.36 447.36 L458.45 447.36 L459.54 447.37" fill="none" stroke="#d0204a" stroke-width="1.1"/>
<path d="M421.10 437.25 V438.32 M420.00 437.25 H422.20 M420.00 438.32 H422.20" stroke="#d0204a" stroke-width="0.75" opacity="0.9"/>
<circle cx="421.10" cy="437.79" r="1.55" fill="#d0204a"/>
<path d="M426.05 439.92 V440.98 M424.95 439.92 H427.15 M424.95 440.98 H427.15" stroke="#d0204a" stroke-width="0.75" opacity="0.9"/>
<circle cx="426.05" cy="440.45" r="1.55" fill="#d0204a"/>
<path d="M431.00 438.85 V443.11 M429.90 438.85 H432.10 M429.90 443.11 H432.10" stroke="#d0204a" stroke-width="0.75" opacity="0.9"/>
<circle cx="431.00" cy="440.98" r="1.55" fill="#d0204a"/>
<path d="M442.55 440.98 V443.11 M441.45 440.98 H443.65 M441.45 443.11 H443.65" stroke="#d0204a" stroke-width="0.75" opacity="0.9"/>
<circle cx="442.55" cy="442.05" r="1.55" fill="#d0204a"/>
<path d="M459.54 444.18 V445.25 M458.44 444.18 H460.64 M458.44 445.25 H460.64" stroke="#d0204a" stroke-width="0.75" opacity="0.9"/>
<circle cx="459.54" cy="444.71" r="1.55" fill="#d0204a"/>
<path d="M468.30 394.20 H475.70" stroke="#3e4e60" stroke-width="1.2"/>
<text x="478.30" y="396.80" font-size="6.0" fill="#2a2a2a" textLength="26.28" lengthAdjust="spacingAndGlyphs" stroke="#2a2a2a" stroke-width="0.2">Vorinostat</text>
<path d="M468.30 401.13 H475.70" stroke="#3ab8e6" stroke-width="1.2"/>
<text x="478.30" y="403.73" font-size="6.0" fill="#2a2a2a" textLength="35.15" lengthAdjust="spacingAndGlyphs" stroke="#2a2a2a" stroke-width="0.2">Lenalidomide</text>
<path d="M468.30 408.06 H475.70" stroke="#a89ce0" stroke-width="1.2"/>
<text x="478.30" y="410.66" font-size="6.0" fill="#2a2a2a" textLength="34.48" lengthAdjust="spacingAndGlyphs" stroke="#2a2a2a" stroke-width="0.2">Temsirolimus</text>
<path d="M468.30 414.99 H475.70" stroke="#ee4aa6" stroke-width="1.2"/>
<text x="478.30" y="417.59" font-size="6.0" fill="#2a2a2a" textLength="30.55" lengthAdjust="spacingAndGlyphs" stroke="#2a2a2a" stroke-width="0.2">Ruxolitiniub</text>
<path d="M468.30 421.92 H475.70" stroke="#d94a68" stroke-width="1.2"/>
<text x="478.30" y="424.52" font-size="6.0" fill="#2a2a2a" textLength="29.89" lengthAdjust="spacingAndGlyphs" stroke="#2a2a2a" stroke-width="0.2">Bortezomib</text>
<path d="M37.60 505.70 V576.40 H142.10" fill="none" stroke="#111" stroke-width="1.1"/>
<path d="M34.60 576.40 H37.60" stroke="#111" stroke-width="1"/>
<text x="31.60" y="578.95" font-size="7.3" text-anchor="end" textLength="4.15" lengthAdjust="spacingAndGlyphs" stroke="#222" stroke-width="0.15">0</text>
<path d="M34.60 563.08 H37.60" stroke="#111" stroke-width="1"/>
<text x="31.60" y="565.63" font-size="7.3" text-anchor="end" textLength="8.30" lengthAdjust="spacingAndGlyphs" stroke="#222" stroke-width="0.15">25</text>
<path d="M34.60 549.76 H37.60" stroke="#111" stroke-width="1"/>
<text x="31.60" y="552.31" font-size="7.3" text-anchor="end" textLength="8.30" lengthAdjust="spacingAndGlyphs" stroke="#222" stroke-width="0.15">50</text>
<path d="M34.60 536.44 H37.60" stroke="#111" stroke-width="1"/>
<text x="31.60" y="538.99" font-size="7.3" text-anchor="end" textLength="8.30" lengthAdjust="spacingAndGlyphs" stroke="#222" stroke-width="0.15">75</text>
<path d="M34.60 523.12 H37.60" stroke="#111" stroke-width="1"/>
<text x="31.60" y="525.67" font-size="7.3" text-anchor="end" textLength="12.45" lengthAdjust="spacingAndGlyphs" stroke="#222" stroke-width="0.15">100</text>
<path d="M34.60 509.80 H37.60" stroke="#111" stroke-width="1"/>
<text x="31.60" y="512.35" font-size="7.3" text-anchor="end" textLength="12.45" lengthAdjust="spacingAndGlyphs" stroke="#222" stroke-width="0.15">125</text>
<path d="M37.60 576.40 V579.30" stroke="#111" stroke-width="1"/>
<text x="35.90" y="588.70" font-size="7.8" text-anchor="middle" textLength="9.00" lengthAdjust="spacingAndGlyphs" stroke="#222" stroke-width="0.15">−7</text>
<path d="M54.26 576.40 V579.30" stroke="#111" stroke-width="1"/>
<text x="52.56" y="588.70" font-size="7.8" text-anchor="middle" textLength="9.00" lengthAdjust="spacingAndGlyphs" stroke="#222" stroke-width="0.15">−6</text>
<path d="M70.92 576.40 V579.30" stroke="#111" stroke-width="1"/>
<text x="69.22" y="588.70" font-size="7.8" text-anchor="middle" textLength="9.00" lengthAdjust="spacingAndGlyphs" stroke="#222" stroke-width="0.15">−5</text>
<path d="M87.58 576.40 V579.30" stroke="#111" stroke-width="1"/>
<text x="85.88" y="588.70" font-size="7.8" text-anchor="middle" textLength="9.00" lengthAdjust="spacingAndGlyphs" stroke="#222" stroke-width="0.15">−4</text>
<path d="M104.24 576.40 V579.30" stroke="#111" stroke-width="1"/>
<text x="102.54" y="588.70" font-size="7.8" text-anchor="middle" textLength="9.00" lengthAdjust="spacingAndGlyphs" stroke="#222" stroke-width="0.15">−3</text>
<path d="M120.90 576.40 V579.30" stroke="#111" stroke-width="1"/>
<text x="119.20" y="588.70" font-size="7.8" text-anchor="middle" textLength="9.00" lengthAdjust="spacingAndGlyphs" stroke="#222" stroke-width="0.15">−2</text>
<path d="M137.56 576.40 V579.30" stroke="#111" stroke-width="1"/>
<text x="135.86" y="588.70" font-size="7.8" text-anchor="middle" textLength="9.00" lengthAdjust="spacingAndGlyphs" stroke="#222" stroke-width="0.15">−1</text>
<text x="73.80" y="600.80" font-size="8.4" textLength="9.00" lengthAdjust="spacingAndGlyphs" stroke="#222" stroke-width="0.3">Log</text>
<text x="85.70" y="600.80" font-size="8.4" textLength="2.30" lengthAdjust="spacingAndGlyphs" stroke="#222" stroke-width="0.3">[</text>
<text x="90.50" y="600.80" font-size="8.4" textLength="2.30" lengthAdjust="spacingAndGlyphs" stroke="#222" stroke-width="0.3">]</text>
<text x="95.80" y="600.80" font-size="8.4" textLength="10.10" lengthAdjust="spacingAndGlyphs" stroke="#222" stroke-width="0.3">µM</text>
<text transform="translate(12.90,540.90) rotate(-90)" x="0" y="0" font-size="9.2" text-anchor="middle" textLength="56.5" lengthAdjust="spacingAndGlyphs" fill="#222" stroke="#222" stroke-width="0.25">Relative cell growth</text>
<text x="39.40" y="572.50" font-size="7.1" textLength="39.10" lengthAdjust="spacingAndGlyphs" stroke="#222" stroke-width="0.12">Patient #26</text>
<path d="M54.26 528.09 L55.37 528.11 L56.48 528.13 L57.59 528.15 L58.70 528.17 L59.81 528.19 L60.92 528.22 L62.03 528.25 L63.15 528.28 L64.26 528.31 L65.37 528.35 L66.48 528.39 L67.59 528.44 L68.70 528.49 L69.81 528.54 L70.92 528.60 L72.03 528.66 L73.14 528.73 L74.25 528.80 L75.36 528.88 L76.47 528.97 L77.58 529.07 L78.69 529.18 L79.81 529.29 L80.92 529.41 L82.03 529.55 L83.14 529.70 L84.25 529.85 L85.36 530.03 L86.47 530.21 L87.58 530.41 L88.69 530.63 L89.80 530.86 L90.91 531.12 L92.02 531.39 L93.13 531.68 L94.24 531.99 L95.35 532.32 L96.47 532.68 L97.58 533.06 L98.69 533.46 L99.80 533.89 L100.91 534.35 L102.02 534.83 L103.13 535.33 L104.24 535.87 L105.35 536.42 L106.46 537.00 L107.57 537.61 L108.68 538.23 L109.79 538.88 L110.90 539.55 L112.01 540.23 L113.13 540.93 L114.24 541.65 L115.35 542.37 L116.46 543.10 L117.57 543.83 L118.68 544.57 L119.79 545.30 L120.90 546.03" fill="none" stroke="#d0204a" stroke-width="1.1"/>
<path d="M54.26 526.32 V529.51 M53.16 526.32 H55.36 M53.16 529.51 H55.36" stroke="#d0204a" stroke-width="0.75" opacity="0.9"/>
<circle cx="54.26" cy="527.92" r="1.55" fill="#d0204a"/>
<path d="M72.59 524.19 V532.71 M71.49 524.19 H73.69 M71.49 532.71 H73.69" stroke="#d0204a" stroke-width="0.75" opacity="0.9"/>
<circle cx="72.59" cy="528.45" r="1.55" fill="#d0204a"/>
<path d="M77.58 525.25 V533.78 M76.48 525.25 H78.68 M76.48 533.78 H78.68" stroke="#d0204a" stroke-width="0.75" opacity="0.9"/>
<circle cx="77.58" cy="529.51" r="1.55" fill="#d0204a"/>
<path d="M82.58 526.32 V534.84 M81.48 526.32 H83.68 M81.48 534.84 H83.68" stroke="#d0204a" stroke-width="0.75" opacity="0.9"/>
<circle cx="82.58" cy="530.58" r="1.55" fill="#d0204a"/>
<path d="M87.58 525.78 V534.31 M86.48 525.78 H88.68 M86.48 534.31 H88.68" stroke="#d0204a" stroke-width="0.75" opacity="0.9"/>
<circle cx="87.58" cy="530.05" r="1.55" fill="#d0204a"/>
<path d="M92.58 528.45 V534.84 M91.48 528.45 H93.68 M91.48 534.84 H93.68" stroke="#d0204a" stroke-width="0.75" opacity="0.9"/>
<circle cx="92.58" cy="531.64" r="1.55" fill="#d0204a"/>
<path d="M104.24 533.78 V540.17 M103.14 533.78 H105.34 M103.14 540.17 H105.34" stroke="#d0204a" stroke-width="0.75" opacity="0.9"/>
<circle cx="104.24" cy="536.97" r="1.55" fill="#d0204a"/>
<path d="M120.90 543.90 V548.16 M119.80 543.90 H122.00 M119.80 548.16 H122.00" stroke="#d0204a" stroke-width="0.75" opacity="0.9"/>
<circle cx="120.90" cy="546.03" r="1.55" fill="#d0204a"/>
<path d="M54.26 525.81 L55.37 525.81 L56.48 525.81 L57.59 525.82 L58.70 525.82 L59.81 525.83 L60.92 525.84 L62.03 525.84 L63.15 525.85 L64.26 525.86 L65.37 525.87 L66.48 525.88 L67.59 525.90 L68.70 525.91 L69.81 525.93 L70.92 525.95 L72.03 525.97 L73.14 526.00 L74.25 526.03 L75.36 526.06 L76.47 526.10 L77.58 526.15 L78.69 526.19 L79.81 526.25 L80.92 526.32 L82.03 526.39 L83.14 526.47 L84.25 526.57 L85.36 526.67 L86.47 526.79 L87.58 526.93 L88.69 527.08 L89.80 527.26 L90.91 527.46 L92.02 527.68 L93.13 527.93 L94.24 528.21 L95.35 528.52 L96.47 528.87 L97.58 529.27 L98.69 529.71 L99.80 530.19 L100.91 530.73 L102.02 531.32 L103.13 531.98 L104.24 532.69 L105.35 533.47 L106.46 534.31 L107.57 535.22 L108.68 536.19 L109.79 537.23 L110.90 538.32 L112.01 539.47 L113.13 540.67 L114.24 541.90 L115.35 543.17 L116.46 544.46 L117.57 545.76 L118.68 547.07 L119.79 548.36 L120.90 549.63" fill="none" stroke="#235d98" stroke-width="1.1"/>
<path d="M54.26 523.65 V527.92 M53.16 523.65 H55.36 M53.16 527.92 H55.36" stroke="#235d98" stroke-width="0.75" opacity="0.9"/>
<circle cx="54.26" cy="525.78" r="1.55" fill="#235d98"/>
<path d="M72.59 520.46 V528.98 M71.49 520.46 H73.69 M71.49 528.98 H73.69" stroke="#235d98" stroke-width="0.75" opacity="0.9"/>
<circle cx="72.59" cy="524.72" r="1.55" fill="#235d98"/>
<path d="M77.58 514.60 V523.12 M76.48 514.60 H78.68 M76.48 523.12 H78.68" stroke="#235d98" stroke-width="0.75" opacity="0.9"/>
<circle cx="77.58" cy="518.86" r="1.55" fill="#235d98"/>
<path d="M82.58 516.19 V524.72 M81.48 516.19 H83.68 M81.48 524.72 H83.68" stroke="#235d98" stroke-width="0.75" opacity="0.9"/>
<circle cx="82.58" cy="520.46" r="1.55" fill="#235d98"/>
<path d="M87.58 520.99 V529.51 M86.48 520.99 H88.68 M86.48 529.51 H88.68" stroke="#235d98" stroke-width="0.75" opacity="0.9"/>
<circle cx="87.58" cy="525.25" r="1.55" fill="#235d98"/>
<path d="M92.58 524.19 V530.58 M91.48 524.19 H93.68 M91.48 530.58 H93.68" stroke="#235d98" stroke-width="0.75" opacity="0.9"/>
<circle cx="92.58" cy="527.38" r="1.55" fill="#235d98"/>
<path d="M104.24 529.51 V535.91 M103.14 529.51 H105.34 M103.14 535.91 H105.34" stroke="#235d98" stroke-width="0.75" opacity="0.9"/>
<circle cx="104.24" cy="532.71" r="1.55" fill="#235d98"/>
<path d="M120.90 547.63 V551.89 M119.80 547.63 H122.00 M119.80 551.89 H122.00" stroke="#235d98" stroke-width="0.75" opacity="0.9"/>
<circle cx="120.90" cy="549.76" r="1.55" fill="#235d98"/>
<path d="M54.26 524.75 L55.37 524.75 L56.48 524.75 L57.59 524.76 L58.70 524.76 L59.81 524.77 L60.92 524.78 L62.03 524.78 L63.15 524.79 L64.26 524.80 L65.37 524.81 L66.48 524.82 L67.59 524.84 L68.70 524.85 L69.81 524.87 L70.92 524.89 L72.03 524.91 L73.14 524.94 L74.25 524.97 L75.36 525.00 L76.47 525.04 L77.58 525.08 L78.69 525.13 L79.81 525.18 L80.92 525.24 L82.03 525.30 L83.14 525.38 L84.25 525.46 L85.36 525.56 L86.47 525.66 L87.58 525.78 L88.69 525.92 L89.80 526.07 L90.91 526.23 L92.02 526.42 L93.13 526.63 L94.24 526.86 L95.35 527.12 L96.47 527.40 L97.58 527.72 L98.69 528.07 L99.80 528.45 L100.91 528.87 L102.02 529.33 L103.13 529.83 L104.24 530.38 L105.35 530.97 L106.46 531.60 L107.57 532.27 L108.68 532.99 L109.79 533.75 L110.90 534.55 L112.01 535.38 L113.13 536.25 L114.24 537.14 L115.35 538.05 L116.46 538.97 L117.57 539.90 L118.68 540.83 L119.79 541.76 L120.90 542.67" fill="none" stroke="#2f8a5a" stroke-width="1.1"/>
<path d="M54.26 522.05 V527.38 M53.16 522.05 H55.36 M53.16 527.38 H55.36" stroke="#2f8a5a" stroke-width="0.75" opacity="0.9"/>
<circle cx="54.26" cy="524.72" r="1.55" fill="#2f8a5a"/>
<path d="M72.59 521.52 V530.05 M71.49 521.52 H73.69 M71.49 530.05 H73.69" stroke="#2f8a5a" stroke-width="0.75" opacity="0.9"/>
<circle cx="72.59" cy="525.78" r="1.55" fill="#2f8a5a"/>
<path d="M77.58 520.99 V529.51 M76.48 520.99 H78.68 M76.48 529.51 H78.68" stroke="#2f8a5a" stroke-width="0.75" opacity="0.9"/>
<circle cx="77.58" cy="525.25" r="1.55" fill="#2f8a5a"/>
<path d="M82.58 521.52 V530.05 M81.48 521.52 H83.68 M81.48 530.05 H83.68" stroke="#2f8a5a" stroke-width="0.75" opacity="0.9"/>
<circle cx="82.58" cy="525.78" r="1.55" fill="#2f8a5a"/>
<path d="M87.58 522.05 V530.58 M86.48 522.05 H88.68 M86.48 530.58 H88.68" stroke="#2f8a5a" stroke-width="0.75" opacity="0.9"/>
<circle cx="87.58" cy="526.32" r="1.55" fill="#2f8a5a"/>
<path d="M92.58 525.25 V531.64 M91.48 525.25 H93.68 M91.48 531.64 H93.68" stroke="#2f8a5a" stroke-width="0.75" opacity="0.9"/>
<circle cx="92.58" cy="528.45" r="1.55" fill="#2f8a5a"/>
<path d="M104.24 530.58 V536.97 M103.14 530.58 H105.34 M103.14 536.97 H105.34" stroke="#2f8a5a" stroke-width="0.75" opacity="0.9"/>
<circle cx="104.24" cy="533.78" r="1.55" fill="#2f8a5a"/>
<path d="M120.90 539.10 V543.37 M119.80 539.10 H122.00 M119.80 543.37 H122.00" stroke="#2f8a5a" stroke-width="0.75" opacity="0.9"/>
<circle cx="120.90" cy="541.24" r="1.55" fill="#2f8a5a"/>
<path d="M54.26 522.71 L55.37 522.72 L56.48 522.74 L57.59 522.75 L58.70 522.77 L59.81 522.79 L60.92 522.81 L62.03 522.83 L63.15 522.86 L64.26 522.89 L65.37 522.92 L66.48 522.95 L67.59 522.99 L68.70 523.03 L69.81 523.08 L70.92 523.13 L72.03 523.18 L73.14 523.24 L74.25 523.31 L75.36 523.39 L76.47 523.47 L77.58 523.56 L78.69 523.66 L79.81 523.77 L80.92 523.88 L82.03 524.02 L83.14 524.16 L84.25 524.32 L85.36 524.49 L86.47 524.68 L87.58 524.88 L88.69 525.11 L89.80 525.35 L90.91 525.62 L92.02 525.91 L93.13 526.23 L94.24 526.57 L95.35 526.94 L96.47 527.34 L97.58 527.77 L98.69 528.23 L99.80 528.73 L100.91 529.26 L102.02 529.82 L103.13 530.42 L104.24 531.06 L105.35 531.74 L106.46 532.45 L107.57 533.19 L108.68 533.97 L109.79 534.78 L110.90 535.62 L112.01 536.48 L113.13 537.37 L114.24 538.28 L115.35 539.20 L116.46 540.14 L117.57 541.08 L118.68 542.02 L119.79 542.96 L120.90 543.89" fill="none" stroke="#5e2d86" stroke-width="1.1"/>
<path d="M54.26 520.99 V524.19 M53.16 520.99 H55.36 M53.16 524.19 H55.36" stroke="#5e2d86" stroke-width="0.75" opacity="0.9"/>
<circle cx="54.26" cy="522.59" r="1.55" fill="#5e2d86"/>
<path d="M72.59 518.86 V527.38 M71.49 518.86 H73.69 M71.49 527.38 H73.69" stroke="#5e2d86" stroke-width="0.75" opacity="0.9"/>
<circle cx="72.59" cy="523.12" r="1.55" fill="#5e2d86"/>
<path d="M77.58 517.79 V526.32 M76.48 517.79 H78.68 M76.48 526.32 H78.68" stroke="#5e2d86" stroke-width="0.75" opacity="0.9"/>
<circle cx="77.58" cy="522.05" r="1.55" fill="#5e2d86"/>
<path d="M82.58 518.86 V527.38 M81.48 518.86 H83.68 M81.48 527.38 H83.68" stroke="#5e2d86" stroke-width="0.75" opacity="0.9"/>
<circle cx="82.58" cy="523.12" r="1.55" fill="#5e2d86"/>
<path d="M87.58 520.99 V529.51 M86.48 520.99 H88.68 M86.48 529.51 H88.68" stroke="#5e2d86" stroke-width="0.75" opacity="0.9"/>
<circle cx="87.58" cy="525.25" r="1.55" fill="#5e2d86"/>
<path d="M92.58 523.65 V530.05 M91.48 523.65 H93.68 M91.48 530.05 H93.68" stroke="#5e2d86" stroke-width="0.75" opacity="0.9"/>
<circle cx="92.58" cy="526.85" r="1.55" fill="#5e2d86"/>
<path d="M104.24 528.45 V534.84 M103.14 528.45 H105.34 M103.14 534.84 H105.34" stroke="#5e2d86" stroke-width="0.75" opacity="0.9"/>
<circle cx="104.24" cy="531.64" r="1.55" fill="#5e2d86"/>
<path d="M120.90 541.77 V546.03 M119.80 541.77 H122.00 M119.80 546.03 H122.00" stroke="#5e2d86" stroke-width="0.75" opacity="0.9"/>
<circle cx="120.90" cy="543.90" r="1.55" fill="#5e2d86"/>
<path d="M54.26 521.56 L55.37 521.57 L56.48 521.57 L57.59 521.58 L58.70 521.59 L59.81 521.59 L60.92 521.60 L62.03 521.61 L63.15 521.62 L64.26 521.63 L65.37 521.65 L66.48 521.66 L67.59 521.68 L68.70 521.70 L69.81 521.72 L70.92 521.74 L72.03 521.77 L73.14 521.79 L74.25 521.83 L75.36 521.86 L76.47 521.90 L77.58 521.94 L78.69 521.99 L79.81 522.04 L80.92 522.10 L82.03 522.17 L83.14 522.24 L84.25 522.32 L85.36 522.41 L86.47 522.51 L87.58 522.62 L88.69 522.75 L89.80 522.88 L90.91 523.03 L92.02 523.19 L93.13 523.37 L94.24 523.57 L95.35 523.79 L96.47 524.02 L97.58 524.28 L98.69 524.56 L99.80 524.86 L100.91 525.19 L102.02 525.54 L103.13 525.92 L104.24 526.33 L105.35 526.76 L106.46 527.22 L107.57 527.71 L108.68 528.22 L109.79 528.75 L110.90 529.31 L112.01 529.89 L113.13 530.49 L114.24 531.09 L115.35 531.72 L116.46 532.34 L117.57 532.98 L118.68 533.61 L119.79 534.24 L120.90 534.86" fill="none" stroke="#f5a01e" stroke-width="1.1"/>
<path d="M54.26 520.46 V522.59 M53.16 520.46 H55.36 M53.16 522.59 H55.36" stroke="#f5a01e" stroke-width="0.75" opacity="0.9"/>
<circle cx="54.26" cy="521.52" r="1.55" fill="#f5a01e"/>
<path d="M72.59 518.86 V523.12 M71.49 518.86 H73.69 M71.49 523.12 H73.69" stroke="#f5a01e" stroke-width="0.75" opacity="0.9"/>
<circle cx="72.59" cy="520.99" r="1.55" fill="#f5a01e"/>
<path d="M77.58 520.46 V499.14 M76.58 499.14 H78.58" stroke="#f5a01e" stroke-width="0.7" opacity="0.85"/>
<circle cx="77.58" cy="518.86" r="1.55" fill="#f5a01e"/>
<path d="M82.58 519.39 V499.14 M81.58 499.14 H83.58" stroke="#f5a01e" stroke-width="0.7" opacity="0.85"/>
<circle cx="82.58" cy="517.79" r="1.55" fill="#f5a01e"/>
<path d="M87.58 521.52 V499.14 M86.58 499.14 H88.58" stroke="#f5a01e" stroke-width="0.7" opacity="0.85"/>
<circle cx="87.58" cy="519.92" r="1.55" fill="#f5a01e"/>
<path d="M92.58 517.79 V526.32 M91.48 517.79 H93.68 M91.48 526.32 H93.68" stroke="#f5a01e" stroke-width="0.75" opacity="0.9"/>
<circle cx="92.58" cy="522.05" r="1.55" fill="#f5a01e"/>
<path d="M104.24 521.52 V530.05 M103.14 521.52 H105.34 M103.14 530.05 H105.34" stroke="#f5a01e" stroke-width="0.75" opacity="0.9"/>
<circle cx="104.24" cy="525.78" r="1.55" fill="#f5a01e"/>
<path d="M120.90 532.18 V537.51 M119.80 532.18 H122.00 M119.80 537.51 H122.00" stroke="#f5a01e" stroke-width="0.75" opacity="0.9"/>
<circle cx="120.90" cy="534.84" r="1.55" fill="#f5a01e"/>
<path d="M54.26 524.31 L55.37 524.32 L56.48 524.33 L57.59 524.35 L58.70 524.37 L59.81 524.39 L60.92 524.41 L62.03 524.43 L63.15 524.46 L64.26 524.48 L65.37 524.52 L66.48 524.55 L67.59 524.59 L68.70 524.63 L69.81 524.68 L70.92 524.73 L72.03 524.78 L73.14 524.84 L74.25 524.91 L75.36 524.98 L76.47 525.07 L77.58 525.16 L78.69 525.26 L79.81 525.36 L80.92 525.48 L82.03 525.61 L83.14 525.76 L84.25 525.91 L85.36 526.09 L86.47 526.27 L87.58 526.48 L88.69 526.70 L89.80 526.95 L90.91 527.21 L92.02 527.50 L93.13 527.82 L94.24 528.15 L95.35 528.52 L96.47 528.92 L97.58 529.34 L98.69 529.80 L99.80 530.29 L100.91 530.81 L102.02 531.37 L103.13 531.96 L104.24 532.59 L105.35 533.25 L106.46 533.95 L107.57 534.67 L108.68 535.43 L109.79 536.22 L110.90 537.03 L112.01 537.87 L113.13 538.73 L114.24 539.61 L115.35 540.50 L116.46 541.40 L117.57 542.30 L118.68 543.20 L119.79 544.10 L120.90 544.99" fill="none" stroke="#9a92dc" stroke-width="1.1"/>
<path d="M129.80 510.80 H137.20" stroke="#e06080" stroke-width="1.2"/>
<text x="139.80" y="513.40" font-size="6.0" fill="#2a2a2a" textLength="29.89" lengthAdjust="spacingAndGlyphs" stroke="#2a2a2a" stroke-width="0.2">Bortezomib</text>
<path d="M129.80 517.80 H137.20" stroke="#6898c8" stroke-width="1.2"/>
<text x="139.80" y="520.40" font-size="6.0" fill="#2a2a2a" textLength="34.50" lengthAdjust="spacingAndGlyphs" stroke="#2a2a2a" stroke-width="0.2">Panobinostat</text>
<path d="M129.80 524.80 H137.20" stroke="#78d888" stroke-width="1.2"/>
<text x="139.80" y="527.40" font-size="6.0" fill="#2a2a2a" textLength="31.21" lengthAdjust="spacingAndGlyphs" stroke="#2a2a2a" stroke-width="0.2">Romidepsin</text>
<path d="M129.80 531.80 H137.20" stroke="#9a78c8" stroke-width="1.2"/>
<text x="139.80" y="534.40" font-size="6.0" fill="#2a2a2a" textLength="25.95" lengthAdjust="spacingAndGlyphs" stroke="#2a2a2a" stroke-width="0.2">Belinostat</text>
<path d="M129.80 538.80 H137.20" stroke="#f8b050" stroke-width="1.2"/>
<text x="139.80" y="541.40" font-size="6.0" fill="#2a2a2a" textLength="25.30" lengthAdjust="spacingAndGlyphs" stroke="#2a2a2a" stroke-width="0.2">Sorafenib</text>
<path d="M129.80 545.80 H137.20" stroke="#b0a8e0" stroke-width="1.2"/>
<text x="139.80" y="548.40" font-size="6.0" fill="#2a2a2a" textLength="34.48" lengthAdjust="spacingAndGlyphs" stroke="#2a2a2a" stroke-width="0.2">Temsirolimus</text>
<path d="M209.80 505.70 V576.40 H314.30" fill="none" stroke="#111" stroke-width="1.1"/>
<path d="M206.80 576.40 H209.80" stroke="#111" stroke-width="1"/>
<text x="203.80" y="578.95" font-size="7.3" text-anchor="end" textLength="4.15" lengthAdjust="spacingAndGlyphs" stroke="#222" stroke-width="0.15">0</text>
<path d="M206.80 563.08 H209.80" stroke="#111" stroke-width="1"/>
<text x="203.80" y="565.63" font-size="7.3" text-anchor="end" textLength="8.30" lengthAdjust="spacingAndGlyphs" stroke="#222" stroke-width="0.15">25</text>
<path d="M206.80 549.76 H209.80" stroke="#111" stroke-width="1"/>
<text x="203.80" y="552.31" font-size="7.3" text-anchor="end" textLength="8.30" lengthAdjust="spacingAndGlyphs" stroke="#222" stroke-width="0.15">50</text>
<path d="M206.80 536.44 H209.80" stroke="#111" stroke-width="1"/>
<text x="203.80" y="538.99" font-size="7.3" text-anchor="end" textLength="8.30" lengthAdjust="spacingAndGlyphs" stroke="#222" stroke-width="0.15">75</text>
<path d="M206.80 523.12 H209.80" stroke="#111" stroke-width="1"/>
<text x="203.80" y="525.67" font-size="7.3" text-anchor="end" textLength="12.45" lengthAdjust="spacingAndGlyphs" stroke="#222" stroke-width="0.15">100</text>
<path d="M206.80 509.80 H209.80" stroke="#111" stroke-width="1"/>
<text x="203.80" y="512.35" font-size="7.3" text-anchor="end" textLength="12.45" lengthAdjust="spacingAndGlyphs" stroke="#222" stroke-width="0.15">125</text>
<path d="M209.80 576.40 V579.30" stroke="#111" stroke-width="1"/>
<text x="208.10" y="588.70" font-size="7.8" text-anchor="middle" textLength="9.00" lengthAdjust="spacingAndGlyphs" stroke="#222" stroke-width="0.15">−7</text>
<path d="M226.63 576.40 V579.30" stroke="#111" stroke-width="1"/>
<text x="224.93" y="588.70" font-size="7.8" text-anchor="middle" textLength="9.00" lengthAdjust="spacingAndGlyphs" stroke="#222" stroke-width="0.15">−6</text>
<path d="M243.46 576.40 V579.30" stroke="#111" stroke-width="1"/>
<text x="241.76" y="588.70" font-size="7.8" text-anchor="middle" textLength="9.00" lengthAdjust="spacingAndGlyphs" stroke="#222" stroke-width="0.15">−5</text>
<path d="M260.29 576.40 V579.30" stroke="#111" stroke-width="1"/>
<text x="258.59" y="588.70" font-size="7.8" text-anchor="middle" textLength="9.00" lengthAdjust="spacingAndGlyphs" stroke="#222" stroke-width="0.15">−4</text>
<path d="M277.12 576.40 V579.30" stroke="#111" stroke-width="1"/>
<text x="275.42" y="588.70" font-size="7.8" text-anchor="middle" textLength="9.00" lengthAdjust="spacingAndGlyphs" stroke="#222" stroke-width="0.15">−3</text>
<path d="M293.95 576.40 V579.30" stroke="#111" stroke-width="1"/>
<text x="292.25" y="588.70" font-size="7.8" text-anchor="middle" textLength="9.00" lengthAdjust="spacingAndGlyphs" stroke="#222" stroke-width="0.15">−2</text>
<path d="M310.78 576.40 V579.30" stroke="#111" stroke-width="1"/>
<text x="309.08" y="588.70" font-size="7.8" text-anchor="middle" textLength="9.00" lengthAdjust="spacingAndGlyphs" stroke="#222" stroke-width="0.15">−1</text>
<text x="246.00" y="600.80" font-size="8.4" textLength="9.00" lengthAdjust="spacingAndGlyphs" stroke="#222" stroke-width="0.3">Log</text>
<text x="257.90" y="600.80" font-size="8.4" textLength="2.30" lengthAdjust="spacingAndGlyphs" stroke="#222" stroke-width="0.3">[</text>
<text x="262.70" y="600.80" font-size="8.4" textLength="2.30" lengthAdjust="spacingAndGlyphs" stroke="#222" stroke-width="0.3">]</text>
<text x="268.00" y="600.80" font-size="8.4" textLength="10.10" lengthAdjust="spacingAndGlyphs" stroke="#222" stroke-width="0.3">µM</text>
<text transform="translate(185.10,540.90) rotate(-90)" x="0" y="0" font-size="9.2" text-anchor="middle" textLength="56.5" lengthAdjust="spacingAndGlyphs" fill="#222" stroke="#222" stroke-width="0.25">Relative cell growth</text>
<text x="211.60" y="572.50" font-size="7.1" textLength="39.10" lengthAdjust="spacingAndGlyphs" stroke="#222" stroke-width="0.12">Patient #30</text>
<path d="M226.63 522.60 L227.76 522.60 L228.89 522.60 L230.02 522.60 L231.15 522.61 L232.28 522.61 L233.41 522.61 L234.54 522.62 L235.67 522.62 L236.80 522.63 L237.93 522.63 L239.06 522.64 L240.19 522.65 L241.33 522.66 L242.46 522.68 L243.59 522.69 L244.72 522.71 L245.85 522.73 L246.98 522.75 L248.11 522.78 L249.24 522.81 L250.37 522.85 L251.50 522.89 L252.63 522.94 L253.76 523.00 L254.89 523.07 L256.02 523.15 L257.15 523.24 L258.28 523.35 L259.41 523.47 L260.54 523.61 L261.67 523.78 L262.80 523.97 L263.93 524.20 L265.06 524.45 L266.19 524.75 L267.32 525.09 L268.46 525.47 L269.59 525.92 L270.72 526.42 L271.85 526.99 L272.98 527.64 L274.11 528.36 L275.24 529.17 L276.37 530.07 L277.50 531.06 L278.63 532.14 L279.76 533.32 L280.89 534.58 L282.02 535.92 L283.15 537.34 L284.28 538.82 L285.41 540.34 L286.54 541.90 L287.67 543.46 L288.80 545.02 L289.93 546.55 L291.06 548.04 L292.19 549.47 L293.32 550.83 L294.45 552.11" fill="none" stroke="#c97a28" stroke-width="1.1"/>
<path d="M226.63 520.99 V524.19 M225.53 520.99 H227.73 M225.53 524.19 H227.73" stroke="#c97a28" stroke-width="0.75" opacity="0.9"/>
<circle cx="226.63" cy="522.59" r="1.55" fill="#c97a28"/>
<path d="M250.19 519.39 V525.78 M249.09 519.39 H251.29 M249.09 525.78 H251.29" stroke="#c97a28" stroke-width="0.75" opacity="0.9"/>
<circle cx="250.19" cy="522.59" r="1.55" fill="#c97a28"/>
<path d="M255.24 517.79 V525.25 M254.14 517.79 H256.34 M254.14 525.25 H256.34" stroke="#c97a28" stroke-width="0.75" opacity="0.9"/>
<circle cx="255.24" cy="521.52" r="1.55" fill="#c97a28"/>
<path d="M260.29 519.39 V525.78 M259.19 519.39 H261.39 M259.19 525.78 H261.39" stroke="#c97a28" stroke-width="0.75" opacity="0.9"/>
<circle cx="260.29" cy="522.59" r="1.55" fill="#c97a28"/>
<path d="M265.34 521.52 V526.85 M264.24 521.52 H266.44 M264.24 526.85 H266.44" stroke="#c97a28" stroke-width="0.75" opacity="0.9"/>
<circle cx="265.34" cy="524.19" r="1.55" fill="#c97a28"/>
<path d="M277.12 528.45 V534.84 M276.02 528.45 H278.22 M276.02 534.84 H278.22" stroke="#c97a28" stroke-width="0.75" opacity="0.9"/>
<circle cx="277.12" cy="531.64" r="1.55" fill="#c97a28"/>
<path d="M294.45 550.29 V554.56 M293.35 550.29 H295.55 M293.35 554.56 H295.55" stroke="#c97a28" stroke-width="0.75" opacity="0.9"/>
<circle cx="294.45" cy="552.42" r="1.55" fill="#c97a28"/>
<path d="M226.63 518.61 L227.76 519.03 L228.89 519.52 L230.02 520.08 L231.15 520.74 L232.28 521.48 L233.41 522.34 L234.54 523.30 L235.67 524.39 L236.80 525.61 L237.93 526.95 L239.06 528.43 L240.19 530.02 L241.33 531.74 L242.46 533.55 L243.59 535.45 L244.72 537.41 L245.85 539.39 L246.98 541.39 L248.11 543.35 L249.24 545.26 L250.37 547.10 L251.50 548.84 L252.63 550.47 L253.76 551.98 L254.89 553.35 L256.02 554.60 L257.15 555.72 L258.28 556.71 L259.41 557.59 L260.54 558.36 L261.67 559.04 L262.80 559.62 L263.93 560.13 L265.06 560.57 L266.19 560.94 L267.32 561.26 L268.46 561.54 L269.59 561.77 L270.72 561.97 L271.85 562.14 L272.98 562.29 L274.11 562.41 L275.24 562.51 L276.37 562.60 L277.50 562.67 L278.63 562.74 L279.76 562.79 L280.89 562.84 L282.02 562.87 L283.15 562.91 L284.28 562.93 L285.41 562.96 L286.54 562.98 L287.67 562.99 L288.80 563.01 L289.93 563.02 L291.06 563.03 L292.19 563.04 L293.32 563.04 L294.45 563.05" fill="none" stroke="#235d98" stroke-width="1.1"/>
<path d="M226.63 509.80 V522.59 M225.53 509.80 H227.73 M225.53 522.59 H227.73" stroke="#235d98" stroke-width="0.75" opacity="0.9"/>
<circle cx="226.63" cy="516.19" r="1.55" fill="#235d98"/>
<path d="M245.14 538.04 V543.37 M244.04 538.04 H246.24 M244.04 543.37 H246.24" stroke="#235d98" stroke-width="0.75" opacity="0.9"/>
<circle cx="245.14" cy="540.70" r="1.55" fill="#235d98"/>
<path d="M250.19 539.64 V544.96 M249.09 539.64 H251.29 M249.09 544.96 H251.29" stroke="#235d98" stroke-width="0.75" opacity="0.9"/>
<circle cx="250.19" cy="542.30" r="1.55" fill="#235d98"/>
<path d="M255.24 549.76 V555.09 M254.14 549.76 H256.34 M254.14 555.09 H256.34" stroke="#235d98" stroke-width="0.75" opacity="0.9"/>
<circle cx="255.24" cy="552.42" r="1.55" fill="#235d98"/>
<path d="M260.29 554.56 V558.82 M259.19 554.56 H261.39 M259.19 558.82 H261.39" stroke="#235d98" stroke-width="0.75" opacity="0.9"/>
<circle cx="260.29" cy="556.69" r="1.55" fill="#235d98"/>
<path d="M265.34 556.69 V560.95 M264.24 556.69 H266.44 M264.24 560.95 H266.44" stroke="#235d98" stroke-width="0.75" opacity="0.9"/>
<circle cx="265.34" cy="558.82" r="1.55" fill="#235d98"/>
<path d="M277.12 558.28 V563.61 M276.02 558.28 H278.22 M276.02 563.61 H278.22" stroke="#235d98" stroke-width="0.75" opacity="0.9"/>
<circle cx="277.12" cy="560.95" r="1.55" fill="#235d98"/>
<path d="M294.45 563.61 V566.81 M293.35 563.61 H295.55 M293.35 566.81 H295.55" stroke="#235d98" stroke-width="0.75" opacity="0.9"/>
<circle cx="294.45" cy="565.21" r="1.55" fill="#235d98"/>
<path d="M226.63 517.43 L227.76 517.66 L228.89 517.92 L230.02 518.23 L231.15 518.59 L232.28 519.01 L233.41 519.49 L234.54 520.06 L235.67 520.71 L236.80 521.46 L237.93 522.32 L239.06 523.29 L240.19 524.39 L241.33 525.62 L242.46 527.00 L243.59 528.51 L244.72 530.15 L245.85 531.93 L246.98 533.82 L248.11 535.81 L249.24 537.87 L250.37 539.98 L251.50 542.11 L252.63 544.23 L253.76 546.30 L254.89 548.31 L256.02 550.22 L257.15 552.01 L258.28 553.68 L259.41 555.22 L260.54 556.61 L261.67 557.87 L262.80 559.00 L263.93 559.99 L265.06 560.87 L266.19 561.64 L267.32 562.30 L268.46 562.88 L269.59 563.38 L270.72 563.81 L271.85 564.18 L272.98 564.50 L274.11 564.77 L275.24 565.00 L276.37 565.19 L277.50 565.36 L278.63 565.50 L279.76 565.62 L280.89 565.72 L282.02 565.81 L283.15 565.88 L284.28 565.94 L285.41 565.99 L286.54 566.04 L287.67 566.08 L288.80 566.11 L289.93 566.13 L291.06 566.16 L292.19 566.17 L293.32 566.19 L294.45 566.20" fill="none" stroke="#d0204a" stroke-width="1.1"/>
<path d="M245.14 530.58 V533.78 M244.04 530.58 H246.24 M244.04 533.78 H246.24" stroke="#d0204a" stroke-width="0.75" opacity="0.9"/>
<circle cx="245.14" cy="532.18" r="1.55" fill="#d0204a"/>
<path d="M250.19 527.92 V531.11 M249.09 527.92 H251.29 M249.09 531.11 H251.29" stroke="#d0204a" stroke-width="0.75" opacity="0.9"/>
<circle cx="250.19" cy="529.51" r="1.55" fill="#d0204a"/>
<path d="M255.24 545.50 V548.69 M254.14 545.50 H256.34 M254.14 548.69 H256.34" stroke="#d0204a" stroke-width="0.75" opacity="0.9"/>
<circle cx="255.24" cy="547.10" r="1.55" fill="#d0204a"/>
<path d="M260.29 553.49 V556.69 M259.19 553.49 H261.39 M259.19 556.69 H261.39" stroke="#d0204a" stroke-width="0.75" opacity="0.9"/>
<circle cx="260.29" cy="555.09" r="1.55" fill="#d0204a"/>
<path d="M265.34 556.15 V559.35 M264.24 556.15 H266.44 M264.24 559.35 H266.44" stroke="#d0204a" stroke-width="0.75" opacity="0.9"/>
<circle cx="265.34" cy="557.75" r="1.55" fill="#d0204a"/>
<path d="M277.12 562.55 V564.68 M276.02 562.55 H278.22 M276.02 564.68 H278.22" stroke="#d0204a" stroke-width="0.75" opacity="0.9"/>
<circle cx="277.12" cy="563.61" r="1.55" fill="#d0204a"/>
<path d="M294.45 565.21 V567.34 M293.35 565.21 H295.55 M293.35 567.34 H295.55" stroke="#d0204a" stroke-width="0.75" opacity="0.9"/>
<circle cx="294.45" cy="566.28" r="1.55" fill="#d0204a"/>
<path d="M298.30 514.00 H305.70" stroke="#d89050" stroke-width="1.2"/>
<text x="308.30" y="516.60" font-size="6.0" fill="#2a2a2a" textLength="24.64" lengthAdjust="spacingAndGlyphs" stroke="#2a2a2a" stroke-width="0.2">Dasatinib</text>
<path d="M298.30 520.60 H305.70" stroke="#4f84bf" stroke-width="1.2"/>
<text x="308.30" y="523.20" font-size="6.0" fill="#2a2a2a" textLength="34.50" lengthAdjust="spacingAndGlyphs" stroke="#2a2a2a" stroke-width="0.2">Panobinostat</text>
<path d="M298.30 527.20 H305.70" stroke="#d94a68" stroke-width="1.2"/>
<text x="308.30" y="529.80" font-size="6.0" fill="#2a2a2a" textLength="29.89" lengthAdjust="spacingAndGlyphs" stroke="#2a2a2a" stroke-width="0.2">Bortezomib</text>
<path d="M378.80 505.70 V576.40 H483.30" fill="none" stroke="#111" stroke-width="1.1"/>
<path d="M375.80 576.40 H378.80" stroke="#111" stroke-width="1"/>
<text x="372.80" y="578.95" font-size="7.3" text-anchor="end" textLength="4.15" lengthAdjust="spacingAndGlyphs" stroke="#222" stroke-width="0.15">0</text>
<path d="M375.80 563.08 H378.80" stroke="#111" stroke-width="1"/>
<text x="372.80" y="565.63" font-size="7.3" text-anchor="end" textLength="8.30" lengthAdjust="spacingAndGlyphs" stroke="#222" stroke-width="0.15">25</text>
<path d="M375.80 549.76 H378.80" stroke="#111" stroke-width="1"/>
<text x="372.80" y="552.31" font-size="7.3" text-anchor="end" textLength="8.30" lengthAdjust="spacingAndGlyphs" stroke="#222" stroke-width="0.15">50</text>
<path d="M375.80 536.44 H378.80" stroke="#111" stroke-width="1"/>
<text x="372.80" y="538.99" font-size="7.3" text-anchor="end" textLength="8.30" lengthAdjust="spacingAndGlyphs" stroke="#222" stroke-width="0.15">75</text>
<path d="M375.80 523.12 H378.80" stroke="#111" stroke-width="1"/>
<text x="372.80" y="525.67" font-size="7.3" text-anchor="end" textLength="12.45" lengthAdjust="spacingAndGlyphs" stroke="#222" stroke-width="0.15">100</text>
<path d="M375.80 509.80 H378.80" stroke="#111" stroke-width="1"/>
<text x="372.80" y="512.35" font-size="7.3" text-anchor="end" textLength="12.45" lengthAdjust="spacingAndGlyphs" stroke="#222" stroke-width="0.15">125</text>
<path d="M378.80 576.40 V579.30" stroke="#111" stroke-width="1"/>
<text x="377.10" y="588.70" font-size="7.8" text-anchor="middle" textLength="9.00" lengthAdjust="spacingAndGlyphs" stroke="#222" stroke-width="0.15">−7</text>
<path d="M395.30 576.40 V579.30" stroke="#111" stroke-width="1"/>
<text x="393.60" y="588.70" font-size="7.8" text-anchor="middle" textLength="9.00" lengthAdjust="spacingAndGlyphs" stroke="#222" stroke-width="0.15">−6</text>
<path d="M411.80 576.40 V579.30" stroke="#111" stroke-width="1"/>
<text x="410.10" y="588.70" font-size="7.8" text-anchor="middle" textLength="9.00" lengthAdjust="spacingAndGlyphs" stroke="#222" stroke-width="0.15">−5</text>
<path d="M428.30 576.40 V579.30" stroke="#111" stroke-width="1"/>
<text x="426.60" y="588.70" font-size="7.8" text-anchor="middle" textLength="9.00" lengthAdjust="spacingAndGlyphs" stroke="#222" stroke-width="0.15">−4</text>
<path d="M444.80 576.40 V579.30" stroke="#111" stroke-width="1"/>
<text x="443.10" y="588.70" font-size="7.8" text-anchor="middle" textLength="9.00" lengthAdjust="spacingAndGlyphs" stroke="#222" stroke-width="0.15">−3</text>
<path d="M461.30 576.40 V579.30" stroke="#111" stroke-width="1"/>
<text x="459.60" y="588.70" font-size="7.8" text-anchor="middle" textLength="9.00" lengthAdjust="spacingAndGlyphs" stroke="#222" stroke-width="0.15">−2</text>
<path d="M477.80 576.40 V579.30" stroke="#111" stroke-width="1"/>
<text x="476.10" y="588.70" font-size="7.8" text-anchor="middle" textLength="9.00" lengthAdjust="spacingAndGlyphs" stroke="#222" stroke-width="0.15">−1</text>
<text x="415.00" y="600.80" font-size="8.4" textLength="9.00" lengthAdjust="spacingAndGlyphs" stroke="#222" stroke-width="0.3">Log</text>
<text x="426.90" y="600.80" font-size="8.4" textLength="2.30" lengthAdjust="spacingAndGlyphs" stroke="#222" stroke-width="0.3">[</text>
<text x="431.70" y="600.80" font-size="8.4" textLength="2.30" lengthAdjust="spacingAndGlyphs" stroke="#222" stroke-width="0.3">]</text>
<text x="437.00" y="600.80" font-size="8.4" textLength="10.10" lengthAdjust="spacingAndGlyphs" stroke="#222" stroke-width="0.3">µM</text>
<text transform="translate(354.10,540.90) rotate(-90)" x="0" y="0" font-size="9.2" text-anchor="middle" textLength="56.5" lengthAdjust="spacingAndGlyphs" fill="#222" stroke="#222" stroke-width="0.25">Relative cell growth</text>
<text x="380.60" y="572.50" font-size="7.1" textLength="39.10" lengthAdjust="spacingAndGlyphs" stroke="#222" stroke-width="0.12">Patient #31</text>
<path d="M395.30 521.03 L396.40 521.03 L397.50 521.04 L398.60 521.05 L399.70 521.06 L400.80 521.07 L401.90 521.09 L403.00 521.11 L404.10 521.13 L405.20 521.16 L406.30 521.19 L407.40 521.22 L408.50 521.26 L409.60 521.32 L410.70 521.37 L411.80 521.44 L412.90 521.53 L414.00 521.62 L415.10 521.74 L416.20 521.87 L417.30 522.02 L418.40 522.21 L419.50 522.42 L420.60 522.66 L421.70 522.95 L422.80 523.28 L423.90 523.66 L425.00 524.09 L426.10 524.59 L427.20 525.14 L428.30 525.77 L429.40 526.47 L430.50 527.24 L431.60 528.08 L432.70 529.00 L433.80 529.97 L434.90 531.01 L436.00 532.08 L437.10 533.19 L438.20 534.31 L439.30 535.43 L440.40 536.54 L441.50 537.61 L442.60 538.64 L443.70 539.62 L444.80 540.53 L445.90 541.38 L447.00 542.15 L448.10 542.85 L449.20 543.47 L450.30 544.03 L451.40 544.53 L452.50 544.96 L453.60 545.34 L454.70 545.67 L455.80 545.95 L456.90 546.20 L458.00 546.41 L459.10 546.59 L460.20 546.75 L461.30 546.88" fill="none" stroke="#c97a28" stroke-width="1.1"/>
<path d="M395.30 515.66 V526.32 M394.20 515.66 H396.40 M394.20 526.32 H396.40" stroke="#c97a28" stroke-width="0.75" opacity="0.9"/>
<circle cx="395.30" cy="520.99" r="1.55" fill="#c97a28"/>
<path d="M418.40 518.86 V524.19 M417.30 518.86 H419.50 M417.30 524.19 H419.50" stroke="#c97a28" stroke-width="0.75" opacity="0.9"/>
<circle cx="418.40" cy="521.52" r="1.55" fill="#c97a28"/>
<path d="M423.35 516.73 V524.19 M422.25 516.73 H424.45 M422.25 524.19 H424.45" stroke="#c97a28" stroke-width="0.75" opacity="0.9"/>
<circle cx="423.35" cy="520.46" r="1.55" fill="#c97a28"/>
<path d="M428.30 522.05 V528.45 M427.20 522.05 H429.40 M427.20 528.45 H429.40" stroke="#c97a28" stroke-width="0.75" opacity="0.9"/>
<circle cx="428.30" cy="525.25" r="1.55" fill="#c97a28"/>
<path d="M433.25 531.11 V539.64 M432.15 531.11 H434.35 M432.15 539.64 H434.35" stroke="#c97a28" stroke-width="0.75" opacity="0.9"/>
<circle cx="433.25" cy="535.37" r="1.55" fill="#c97a28"/>
<path d="M444.80 530.05 V537.51 M443.70 530.05 H445.90 M443.70 537.51 H445.90" stroke="#c97a28" stroke-width="0.75" opacity="0.9"/>
<circle cx="444.80" cy="533.78" r="1.55" fill="#c97a28"/>
<path d="M461.30 544.96 V549.23 M460.20 544.96 H462.40 M460.20 549.23 H462.40" stroke="#c97a28" stroke-width="0.75" opacity="0.9"/>
<circle cx="461.30" cy="547.10" r="1.55" fill="#c97a28"/>
<path d="M395.30 530.48 L396.40 530.54 L397.50 530.62 L398.60 530.70 L399.70 530.79 L400.80 530.90 L401.90 531.02 L403.00 531.16 L404.10 531.32 L405.20 531.50 L406.30 531.71 L407.40 531.94 L408.50 532.21 L409.60 532.50 L410.70 532.84 L411.80 533.21 L412.90 533.63 L414.00 534.10 L415.10 534.62 L416.20 535.19 L417.30 535.83 L418.40 536.52 L419.50 537.28 L420.60 538.10 L421.70 538.98 L422.80 539.92 L423.90 540.91 L425.00 541.96 L426.10 543.05 L427.20 544.18 L428.30 545.34 L429.40 546.51 L430.50 547.68 L431.60 548.86 L432.70 550.01 L433.80 551.14 L434.90 552.23 L436.00 553.28 L437.10 554.28 L438.20 555.22 L439.30 556.10 L440.40 556.91 L441.50 557.67 L442.60 558.36 L443.70 559.00 L444.80 559.57 L445.90 560.09 L447.00 560.56 L448.10 560.98 L449.20 561.36 L450.30 561.69 L451.40 561.99 L452.50 562.25 L453.60 562.48 L454.70 562.69 L455.80 562.87 L456.90 563.03 L458.00 563.17 L459.10 563.29 L460.20 563.40 L461.30 563.49" fill="none" stroke="#235d98" stroke-width="1.1"/>
<path d="M395.30 514.60 V529.51 M394.20 514.60 H396.40 M394.20 529.51 H396.40" stroke="#235d98" stroke-width="0.75" opacity="0.9"/>
<circle cx="395.30" cy="522.05" r="1.55" fill="#235d98"/>
<path d="M413.45 539.10 V543.37 M412.35 539.10 H414.55 M412.35 543.37 H414.55" stroke="#235d98" stroke-width="0.75" opacity="0.9"/>
<circle cx="413.45" cy="541.24" r="1.55" fill="#235d98"/>
<path d="M418.40 536.44 V541.77 M417.30 536.44 H419.50 M417.30 541.77 H419.50" stroke="#235d98" stroke-width="0.75" opacity="0.9"/>
<circle cx="418.40" cy="539.10" r="1.55" fill="#235d98"/>
<path d="M423.35 539.64 V544.96 M422.25 539.64 H424.45 M422.25 544.96 H424.45" stroke="#235d98" stroke-width="0.75" opacity="0.9"/>
<circle cx="423.35" cy="542.30" r="1.55" fill="#235d98"/>
<path d="M428.30 543.37 V547.63 M427.20 543.37 H429.40 M427.20 547.63 H429.40" stroke="#235d98" stroke-width="0.75" opacity="0.9"/>
<circle cx="428.30" cy="545.50" r="1.55" fill="#235d98"/>
<path d="M433.25 544.96 V549.23 M432.15 544.96 H434.35 M432.15 549.23 H434.35" stroke="#235d98" stroke-width="0.75" opacity="0.9"/>
<circle cx="433.25" cy="547.10" r="1.55" fill="#235d98"/>
<path d="M444.80 550.29 V554.56 M443.70 550.29 H445.90 M443.70 554.56 H445.90" stroke="#235d98" stroke-width="0.75" opacity="0.9"/>
<circle cx="444.80" cy="552.42" r="1.55" fill="#235d98"/>
<path d="M461.30 567.34 V571.60 M460.20 567.34 H462.40 M460.20 571.60 H462.40" stroke="#235d98" stroke-width="0.75" opacity="0.9"/>
<circle cx="461.30" cy="569.47" r="1.55" fill="#235d98"/>
<path d="M395.30 525.95 L396.40 527.75 L397.50 529.96 L398.60 532.53 L399.70 535.33 L400.80 538.18 L401.90 540.86 L403.00 543.23 L404.10 545.19 L405.20 546.74 L406.30 547.92 L407.40 548.78 L408.50 549.40 L409.60 549.84 L410.70 550.15 L411.80 550.36 L412.90 550.51 L414.00 550.61 L415.10 550.68 L416.20 550.72 L417.30 550.76 L418.40 550.78 L419.50 550.79 L420.60 550.80 L421.70 550.81 L422.80 550.82 L423.90 550.82 L425.00 550.82 L426.10 550.82 L427.20 550.82 L428.30 550.82 L429.40 550.82 L430.50 550.82 L431.60 550.83 L432.70 550.83 L433.80 550.83 L434.90 550.83 L436.00 550.83 L437.10 550.83 L438.20 550.83 L439.30 550.83 L440.40 550.83 L441.50 550.83 L442.60 550.83 L443.70 550.83 L444.80 550.83 L445.90 550.83 L447.00 550.83 L448.10 550.83 L449.20 550.83 L450.30 550.83 L451.40 550.83 L452.50 550.83 L453.60 550.83 L454.70 550.83 L455.80 550.83 L456.90 550.83 L458.00 550.83 L459.10 550.83 L460.20 550.83 L461.30 550.83" fill="none" stroke="#d0204a" stroke-width="1.1"/>
<path d="M413.45 554.56 V556.69 M412.35 554.56 H414.55 M412.35 556.69 H414.55" stroke="#d0204a" stroke-width="0.75" opacity="0.9"/>
<circle cx="413.45" cy="555.62" r="1.55" fill="#d0204a"/>
<path d="M418.40 547.10 V551.36 M417.30 547.10 H419.50 M417.30 551.36 H419.50" stroke="#d0204a" stroke-width="0.75" opacity="0.9"/>
<circle cx="418.40" cy="549.23" r="1.55" fill="#d0204a"/>
<path d="M423.35 543.90 V548.16 M422.25 543.90 H424.45 M422.25 548.16 H424.45" stroke="#d0204a" stroke-width="0.75" opacity="0.9"/>
<circle cx="423.35" cy="546.03" r="1.55" fill="#d0204a"/>
<path d="M428.30 544.43 V547.63 M427.20 544.43 H429.40 M427.20 547.63 H429.40" stroke="#d0204a" stroke-width="0.75" opacity="0.9"/>
<circle cx="428.30" cy="546.03" r="1.55" fill="#d0204a"/>
<path d="M433.25 544.43 V547.63 M432.15 544.43 H434.35 M432.15 547.63 H434.35" stroke="#d0204a" stroke-width="0.75" opacity="0.9"/>
<circle cx="433.25" cy="546.03" r="1.55" fill="#d0204a"/>
<path d="M444.80 551.36 V553.49 M443.70 551.36 H445.90 M443.70 553.49 H445.90" stroke="#d0204a" stroke-width="0.75" opacity="0.9"/>
<circle cx="444.80" cy="552.42" r="1.55" fill="#d0204a"/>
<path d="M461.30 555.62 V559.88 M460.20 555.62 H462.40 M460.20 559.88 H462.40" stroke="#d0204a" stroke-width="0.75" opacity="0.9"/>
<circle cx="461.30" cy="557.75" r="1.55" fill="#d0204a"/>
<path d="M468.30 514.00 H475.70" stroke="#d89050" stroke-width="1.2"/>
<text x="478.30" y="516.60" font-size="6.0" fill="#2a2a2a" textLength="24.64" lengthAdjust="spacingAndGlyphs" stroke="#2a2a2a" stroke-width="0.2">Dasatinib</text>
<path d="M468.30 520.60 H475.70" stroke="#4f84bf" stroke-width="1.2"/>
<text x="478.30" y="523.20" font-size="6.0" fill="#2a2a2a" textLength="34.50" lengthAdjust="spacingAndGlyphs" stroke="#2a2a2a" stroke-width="0.2">Panobinostat</text>
<path d="M468.30 527.20 H475.70" stroke="#d94a68" stroke-width="1.2"/>
<text x="478.30" y="529.80" font-size="6.0" fill="#2a2a2a" textLength="29.89" lengthAdjust="spacingAndGlyphs" stroke="#2a2a2a" stroke-width="0.2">Bortezomib</text>
<rect x="0.5" y="0.5" width="519" height="607" fill="none" stroke="#000" stroke-width="1.2"/>
</svg>
</body></html>
